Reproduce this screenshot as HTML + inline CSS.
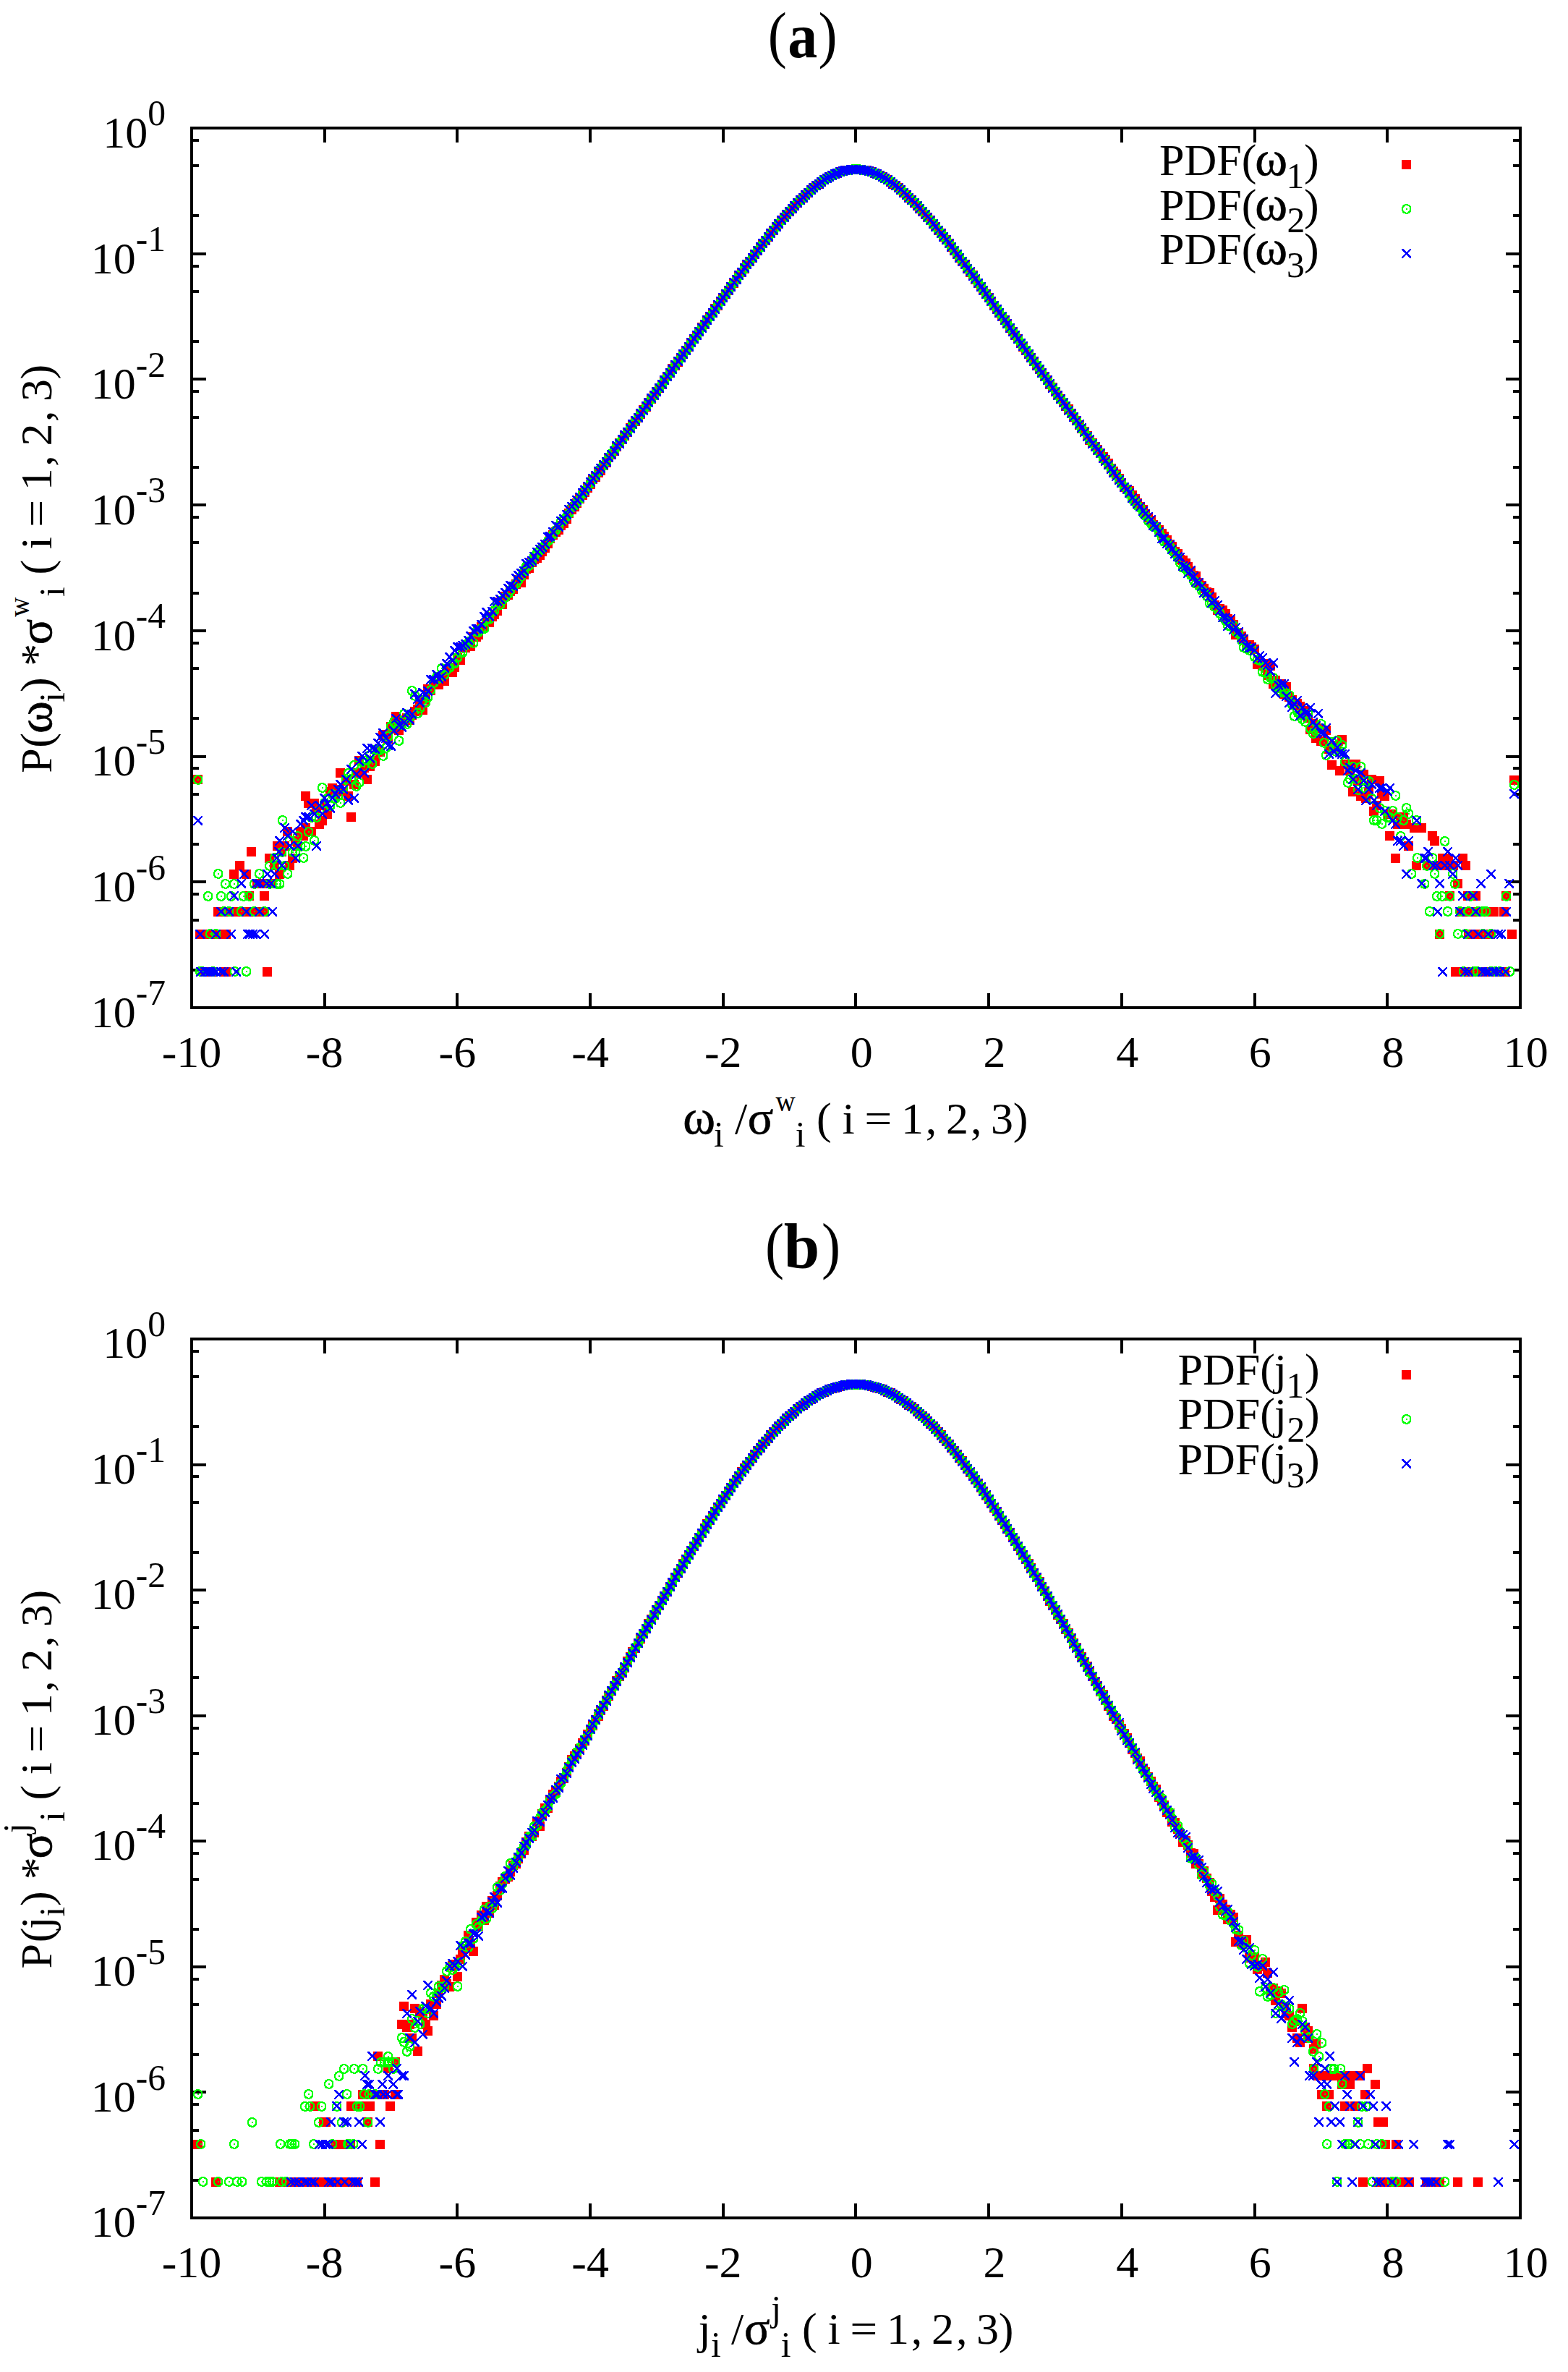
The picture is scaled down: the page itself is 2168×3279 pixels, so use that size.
<!DOCTYPE html>
<html><head><meta charset="utf-8"><title>PDF plots</title>
<style>html,body{margin:0;padding:0;background:#fff}svg{display:block}text{font-family:"Liberation Serif",serif;font-size:62px;fill:#000}</style></head><body>
<svg width="2168" height="3279" viewBox="0 0 2168 3279">
<rect width="2168" height="3279" fill="#fff"/>
<defs><path id="c" fill="#0f0" d="M4 0h5v1h-5zM2 1h9v1h-9zM1 2h4v1h-4zM8 2h4v1h-4zM1 3h3v1h-3zM10 3h3v1h-3zM0 4h3v1h-3zM11 4h2v1h-2zM0 5h2v1h-2zM11 5h2v1h-2zM0 6h2v1h-2zM6 6h2v1h-2zM11 6h2v1h-2zM0 7h2v1h-2zM6 7h2v1h-2zM11 7h2v1h-2zM0 8h2v1h-2zM11 8h2v1h-2zM0 9h3v1h-3zM10 9h3v1h-3zM1 10h3v1h-3zM9 10h4v1h-4zM1 11h5v1h-5zM8 11h4v1h-4zM2 12h9v1h-9zM5 13h4v1h-4z"/><path id="x" fill="#00f" d="M0 0h3v1h-3zM11 0h2v1h-2zM0 1h4v1h-4zM10 1h3v1h-3zM1 2h4v1h-4zM9 2h3v1h-3zM2 3h4v1h-4zM8 3h3v1h-3zM3 4h7v1h-7zM4 5h5v1h-5zM5 6h4v1h-4zM4 7h6v1h-6zM3 8h3v1h-3zM7 8h4v1h-4zM2 9h3v1h-3zM8 9h4v1h-4zM1 10h3v1h-3zM9 10h4v1h-4zM0 11h3v1h-3zM10 11h3v1h-3zM0 12h2v1h-2zM11 12h2v1h-2z"/></defs>
<g id="panel-a">
<text transform="translate(1061.86,77) scale(0.9,1)" style="font-size:87px;">(</text>
<text transform="translate(1089.16,78.5) scale(0.92,1)" font-weight="bold" style="font-size:89px;">a</text>
<text transform="translate(1131.38,77) scale(0.9,1)" style="font-size:87px;">)</text>
<g fill="#000" shape-rendering="crispEdges">
<rect x="263" y="175" width="1841" height="4"/>
<rect x="263" y="1391" width="1841" height="4"/>
<rect x="263" y="175" width="4" height="1220"/>
<rect x="2100" y="175" width="4" height="1220"/>
<rect x="447" y="177" width="4" height="20"/>
<rect x="447" y="1373" width="4" height="20"/>
<rect x="630" y="177" width="4" height="20"/>
<rect x="630" y="1373" width="4" height="20"/>
<rect x="814" y="177" width="4" height="20"/>
<rect x="814" y="1373" width="4" height="20"/>
<rect x="998" y="177" width="4" height="20"/>
<rect x="998" y="1373" width="4" height="20"/>
<rect x="1181" y="177" width="4" height="20"/>
<rect x="1181" y="1373" width="4" height="20"/>
<rect x="1365" y="177" width="4" height="20"/>
<rect x="1365" y="1373" width="4" height="20"/>
<rect x="1549" y="177" width="4" height="20"/>
<rect x="1549" y="1373" width="4" height="20"/>
<rect x="1733" y="177" width="4" height="20"/>
<rect x="1733" y="1373" width="4" height="20"/>
<rect x="1916" y="177" width="4" height="20"/>
<rect x="1916" y="1373" width="4" height="20"/>
<rect x="265" y="192" width="10" height="4"/>
<rect x="2092" y="192" width="10" height="4"/>
<rect x="265" y="227" width="10" height="4"/>
<rect x="2092" y="227" width="10" height="4"/>
<rect x="265" y="296" width="10" height="4"/>
<rect x="2092" y="296" width="10" height="4"/>
<rect x="265" y="349" width="20" height="4"/>
<rect x="2082" y="349" width="20" height="4"/>
<rect x="265" y="366" width="10" height="4"/>
<rect x="2092" y="366" width="10" height="4"/>
<rect x="265" y="401" width="10" height="4"/>
<rect x="2092" y="401" width="10" height="4"/>
<rect x="265" y="470" width="10" height="4"/>
<rect x="2092" y="470" width="10" height="4"/>
<rect x="265" y="522" width="20" height="4"/>
<rect x="2082" y="522" width="20" height="4"/>
<rect x="265" y="539" width="10" height="4"/>
<rect x="2092" y="539" width="10" height="4"/>
<rect x="265" y="575" width="10" height="4"/>
<rect x="2092" y="575" width="10" height="4"/>
<rect x="265" y="644" width="10" height="4"/>
<rect x="2092" y="644" width="10" height="4"/>
<rect x="265" y="696" width="20" height="4"/>
<rect x="2082" y="696" width="20" height="4"/>
<rect x="265" y="713" width="10" height="4"/>
<rect x="2092" y="713" width="10" height="4"/>
<rect x="265" y="748" width="10" height="4"/>
<rect x="2092" y="748" width="10" height="4"/>
<rect x="265" y="818" width="10" height="4"/>
<rect x="2092" y="818" width="10" height="4"/>
<rect x="265" y="870" width="20" height="4"/>
<rect x="2082" y="870" width="20" height="4"/>
<rect x="265" y="887" width="10" height="4"/>
<rect x="2092" y="887" width="10" height="4"/>
<rect x="265" y="922" width="10" height="4"/>
<rect x="2092" y="922" width="10" height="4"/>
<rect x="265" y="991" width="10" height="4"/>
<rect x="2092" y="991" width="10" height="4"/>
<rect x="265" y="1044" width="20" height="4"/>
<rect x="2082" y="1044" width="20" height="4"/>
<rect x="265" y="1060" width="10" height="4"/>
<rect x="2092" y="1060" width="10" height="4"/>
<rect x="265" y="1096" width="10" height="4"/>
<rect x="2092" y="1096" width="10" height="4"/>
<rect x="265" y="1165" width="10" height="4"/>
<rect x="2092" y="1165" width="10" height="4"/>
<rect x="265" y="1217" width="20" height="4"/>
<rect x="2082" y="1217" width="20" height="4"/>
<rect x="265" y="1234" width="10" height="4"/>
<rect x="2092" y="1234" width="10" height="4"/>
<rect x="265" y="1270" width="10" height="4"/>
<rect x="2092" y="1270" width="10" height="4"/>
<rect x="265" y="1339" width="10" height="4"/>
<rect x="2092" y="1339" width="10" height="4"/>
</g>
<text x="229" y="203.8" text-anchor="end">10<tspan dy="-30.5" font-size="49.6">0</tspan></text>
<text x="229" y="377.51" text-anchor="end">10<tspan dy="-30.5" font-size="49.6">-1</tspan></text>
<text x="229" y="551.23" text-anchor="end">10<tspan dy="-30.5" font-size="49.6">-2</tspan></text>
<text x="229" y="724.94" text-anchor="end">10<tspan dy="-30.5" font-size="49.6">-3</tspan></text>
<text x="229" y="898.66" text-anchor="end">10<tspan dy="-30.5" font-size="49.6">-4</tspan></text>
<text x="229" y="1072.37" text-anchor="end">10<tspan dy="-30.5" font-size="49.6">-5</tspan></text>
<text x="229" y="1246.09" text-anchor="end">10<tspan dy="-30.5" font-size="49.6">-6</tspan></text>
<text x="229" y="1419.8" text-anchor="end">10<tspan dy="-30.5" font-size="49.6">-7</tspan></text>
<text x="265" y="1475" text-anchor="middle">-10</text>
<text x="448.7" y="1475" text-anchor="middle">-8</text>
<text x="632.4" y="1475" text-anchor="middle">-6</text>
<text x="816.1" y="1475" text-anchor="middle">-4</text>
<text x="999.8" y="1475" text-anchor="middle">-2</text>
<text x="1191.25" y="1475" text-anchor="middle">0</text>
<text x="1374.95" y="1475" text-anchor="middle">2</text>
<text x="1558.65" y="1475" text-anchor="middle">4</text>
<text x="1742.35" y="1475" text-anchor="middle">6</text>
<text x="1926.05" y="1475" text-anchor="middle">8</text>
<text x="2109.75" y="1475" text-anchor="middle">10</text>
<text x="1737.4" y="242.2" text-anchor="end">PDF(</text>
<text x="1735.34" y="242.2" style="font-size:68px;stroke:#000;stroke-width:0.6px;">ω</text>
<text x="1778.61" y="259.9" style="font-size:49.6px;">1</text>
<text x="1803" y="242.2">)</text>
<text x="1737.4" y="303.7" text-anchor="end">PDF(</text>
<text x="1735.34" y="303.7" style="font-size:68px;stroke:#000;stroke-width:0.6px;">ω</text>
<text x="1779.58" y="321.4" style="font-size:49.6px;">2</text>
<text x="1803" y="303.7">)</text>
<text x="1737.4" y="365.2" text-anchor="end">PDF(</text>
<text x="1735.34" y="365.2" style="font-size:68px;stroke:#000;stroke-width:0.6px;">ω</text>
<text x="1779.08" y="382.9" style="font-size:49.6px;">3</text>
<text x="1803" y="365.2">)</text>
<text x="944.14" y="1567.4" style="font-size:68px;stroke:#000;stroke-width:0.6px;">ω</text>
<text x="986.96" y="1585.4" style="font-size:49.6px;">i</text>
<text x="1016" y="1567.4">/</text>
<text x="1033.69" y="1567.4" style="font-size:66px;stroke:#000;stroke-width:0.6px;">σ</text>
<text transform="translate(1072.46,1536.1) scale(0.94,1)" style="font-size:40px;">w</text>
<text x="1099.86" y="1585.4" style="font-size:49.6px;">i</text>
<text x="1129.08" y="1567.4">(</text>
<text x="1164.5" y="1567.4">i</text>
<text transform="translate(1195.34,1567.4) scale(1.09,1)">=</text>
<text x="1246.04" y="1567.4">1</text>
<text x="1279.74" y="1567.4">,</text>
<text x="1308.08" y="1567.4">2</text>
<text x="1341.94" y="1567.4">,</text>
<text x="1370.03" y="1567.4">3</text>
<text x="1400.8" y="1567.4">)</text>
<g transform="translate(71,1067) rotate(-90)">
<text x="-1.79" y="0">P</text>
<text x="33.28" y="0">(</text>
<text x="52.94" y="0" style="font-size:68px;stroke:#000;stroke-width:0.6px;">ω</text>
<text x="96.26" y="18" style="font-size:49.6px;">i</text>
<text x="110" y="0">)</text>
<text x="146.17" y="0">*</text>
<text x="175.69" y="0" style="font-size:66px;stroke:#000;stroke-width:0.6px;">σ</text>
<text transform="translate(214.26,-31.3) scale(0.94,1)" style="font-size:40px;">w</text>
<text x="241.96" y="18" style="font-size:49.6px;">i</text>
<text x="272.48" y="0">(</text>
<text x="307.69" y="0">i</text>
<text transform="translate(338.34,0) scale(1.09,1)">=</text>
<text x="388.65" y="0">1</text>
<text x="422.24" y="0">,</text>
<text x="450.4" y="0">2</text>
<text x="484.06" y="0">,</text>
<text x="511.99" y="0">3</text>
<text x="542.58" y="0">)</text>
</g>
<g shape-rendering="crispEdges">
<path fill="#f00" d="M380 1202h13v13h-13zM383 1171h13v13h-13zM387 1163h13v13h-13zM391 1143h13v13h-13zM394 1190h13v13h-13zM398 1180h13v13h-13zM402 1156h13v13h-13zM405 1163h13v13h-13zM409 1143h13v13h-13zM413 1149h13v13h-13zM416 1138h13v13h-13zM420 1104h13v13h-13zM424 1143h13v13h-13zM428 1104h13v13h-13zM431 1111h13v13h-13zM435 1133h13v13h-13zM439 1128h13v13h-13zM442 1107h13v13h-13zM446 1119h13v13h-13zM450 1088h13v13h-13zM453 1083h13v13h-13zM457 1091h13v13h-13zM461 1085h13v13h-13zM464 1062h13v13h-13zM468 1088h13v13h-13zM472 1073h13v13h-13zM475 1094h13v13h-13zM479 1123h13v13h-13zM483 1078h13v13h-13zM486 1062h13v13h-13zM490 1045h13v13h-13zM494 1062h13v13h-13zM497 1055h13v13h-13zM501 1071h13v13h-13zM505 1053h13v13h-13zM508 1045h13v13h-13zM512 1046h13v13h-13zM516 1030h13v13h-13zM519 1033h13v13h-13zM523 1010h13v13h-13zM527 1009h13v13h-13zM530 1015h13v13h-13zM534 998h13v13h-13zM538 1001h13v13h-13zM541 984h13v13h-13zM545 1003h13v13h-13zM549 992h13v13h-13zM552 989h13v13h-13zM556 986h13v13h-13zM560 989h13v13h-13zM563 982h13v13h-13zM567 977h13v13h-13zM571 974h13v13h-13zM574 961h13v13h-13zM578 975h13v13h-13zM582 961h13v13h-13zM585 946h13v13h-13zM589 948h13v13h-13zM593 940h13v13h-13zM597 938h13v13h-13zM600 940h13v13h-13zM604 931h13v13h-13zM608 935h13v13h-13zM611 922h13v13h-13zM615 919h13v13h-13zM619 923h13v13h-13zM622 916h13v13h-13zM626 903h13v13h-13zM630 906h13v13h-13zM633 889h13v13h-13zM637 889h13v13h-13zM641 885h13v13h-13zM644 887h13v13h-13zM648 874h13v13h-13zM652 874h13v13h-13zM655 871h13v13h-13zM659 860h13v13h-13zM663 860h13v13h-13zM666 854h13v13h-13zM670 854h13v13h-13zM674 846h13v13h-13zM677 843h13v13h-13zM681 838h13v13h-13zM685 826h13v13h-13zM688 829h13v13h-13zM692 818h13v13h-13zM696 816h13v13h-13zM699 811h13v13h-13zM703 808h13v13h-13zM707 801h13v13h-13zM710 795h13v13h-13zM714 799h13v13h-13zM718 788h13v13h-13zM721 780h13v13h-13zM725 779h13v13h-13zM729 771h13v13h-13zM732 767h13v13h-13zM736 765h13v13h-13zM740 761h13v13h-13zM743 756h13v13h-13zM747 751h13v13h-13zM751 745h13v13h-13zM754 738h13v13h-13zM758 733h13v13h-13zM762 729h13v13h-13zM766 726h13v13h-13zM769 720h13v13h-13zM773 717h13v13h-13zM777 711h13v13h-13zM780 703h13v13h-13zM784 698h13v13h-13zM788 694h13v13h-13zM791 689h13v13h-13zM795 683h13v13h-13zM799 678h13v13h-13zM802 674h13v13h-13zM806 668h13v13h-13zM810 663h13v13h-13zM813 656h13v13h-13zM817 653h13v13h-13zM821 647h13v13h-13zM824 644h13v13h-13zM828 637h13v13h-13zM832 633h13v13h-13zM835 626h13v13h-13zM839 622h13v13h-13zM843 617h13v13h-13zM846 611h13v13h-13zM850 606h13v13h-13zM854 601h13v13h-13zM857 596h13v13h-13zM861 591h13v13h-13zM865 585h13v13h-13zM868 580h13v13h-13zM872 576h13v13h-13zM876 571h13v13h-13zM879 566h13v13h-13zM883 560h13v13h-13zM887 556h13v13h-13zM890 550h13v13h-13zM894 545h13v13h-13zM898 540h13v13h-13zM901 535h13v13h-13zM905 530h13v13h-13zM909 525h13v13h-13zM912 519h13v13h-13zM916 514h13v13h-13zM920 509h13v13h-13zM923 503h13v13h-13zM927 499h13v13h-13zM931 494h13v13h-13zM935 488h13v13h-13zM938 483h13v13h-13zM942 478h13v13h-13zM946 473h13v13h-13zM949 467h13v13h-13zM953 462h13v13h-13zM957 457h13v13h-13zM960 452h13v13h-13zM964 446h13v13h-13zM968 442h13v13h-13zM971 436h13v13h-13zM975 431h13v13h-13zM979 426h13v13h-13zM982 420h13v13h-13zM986 416h13v13h-13zM990 410h13v13h-13zM993 405h13v13h-13zM997 400h13v13h-13zM1001 395h13v13h-13zM1004 390h13v13h-13zM1008 385h13v13h-13zM1012 380h13v13h-13zM1015 374h13v13h-13zM1019 370h13v13h-13zM1023 365h13v13h-13zM1026 359h13v13h-13zM1030 355h13v13h-13zM1034 350h13v13h-13zM1037 345h13v13h-13zM1041 340h13v13h-13zM1045 335h13v13h-13zM1048 330h13v13h-13zM1052 326h13v13h-13zM1056 321h13v13h-13zM1059 316h13v13h-13zM1063 312h13v13h-13zM1067 307h13v13h-13zM1070 303h13v13h-13zM1074 298h13v13h-13zM1078 294h13v13h-13zM1081 290h13v13h-13zM1085 286h13v13h-13zM1089 282h13v13h-13zM1092 278h13v13h-13zM1096 274h13v13h-13zM1100 270h13v13h-13zM1104 267h13v13h-13zM1107 263h13v13h-13zM1111 260h13v13h-13zM1115 256h13v13h-13zM1118 253h13v13h-13zM1122 250h13v13h-13zM1126 248h13v13h-13zM1129 245h13v13h-13zM1133 242h13v13h-13zM1137 240h13v13h-13zM1140 238h13v13h-13zM1144 236h13v13h-13zM1148 234h13v13h-13zM1151 233h13v13h-13zM1155 231h13v13h-13zM1159 230h13v13h-13zM1162 229h13v13h-13zM1166 229h13v13h-13zM1170 228h13v13h-13zM1173 228h13v13h-13zM1177 228h13v13h-13zM1181 228h13v13h-13zM1184 228h13v13h-13zM1188 229h13v13h-13zM1192 229h13v13h-13zM1195 230h13v13h-13zM1199 231h13v13h-13zM1203 233h13v13h-13zM1206 234h13v13h-13zM1210 236h13v13h-13zM1214 238h13v13h-13zM1217 240h13v13h-13zM1221 242h13v13h-13zM1225 245h13v13h-13zM1228 248h13v13h-13zM1232 250h13v13h-13zM1236 253h13v13h-13zM1239 256h13v13h-13zM1243 260h13v13h-13zM1247 263h13v13h-13zM1250 267h13v13h-13zM1254 270h13v13h-13zM1258 274h13v13h-13zM1262 278h13v13h-13zM1265 282h13v13h-13zM1269 286h13v13h-13zM1273 290h13v13h-13zM1276 294h13v13h-13zM1280 298h13v13h-13zM1284 303h13v13h-13zM1287 307h13v13h-13zM1291 312h13v13h-13zM1295 316h13v13h-13zM1298 321h13v13h-13zM1302 325h13v13h-13zM1306 330h13v13h-13zM1309 335h13v13h-13zM1313 340h13v13h-13zM1317 345h13v13h-13zM1320 350h13v13h-13zM1324 355h13v13h-13zM1328 359h13v13h-13zM1331 365h13v13h-13zM1335 370h13v13h-13zM1339 374h13v13h-13zM1342 380h13v13h-13zM1346 385h13v13h-13zM1350 390h13v13h-13zM1353 395h13v13h-13zM1357 400h13v13h-13zM1361 405h13v13h-13zM1364 410h13v13h-13zM1368 416h13v13h-13zM1372 421h13v13h-13zM1375 426h13v13h-13zM1379 431h13v13h-13zM1383 436h13v13h-13zM1386 441h13v13h-13zM1390 447h13v13h-13zM1394 452h13v13h-13zM1397 457h13v13h-13zM1401 462h13v13h-13zM1405 468h13v13h-13zM1408 473h13v13h-13zM1412 478h13v13h-13zM1416 483h13v13h-13zM1419 488h13v13h-13zM1423 493h13v13h-13zM1427 499h13v13h-13zM1431 504h13v13h-13zM1434 509h13v13h-13zM1438 514h13v13h-13zM1442 519h13v13h-13zM1445 525h13v13h-13zM1449 529h13v13h-13zM1453 535h13v13h-13zM1456 540h13v13h-13zM1460 545h13v13h-13zM1464 550h13v13h-13zM1467 555h13v13h-13zM1471 559h13v13h-13zM1475 565h13v13h-13zM1478 570h13v13h-13zM1482 575h13v13h-13zM1486 581h13v13h-13zM1489 586h13v13h-13zM1493 590h13v13h-13zM1497 596h13v13h-13zM1500 602h13v13h-13zM1504 606h13v13h-13zM1508 611h13v13h-13zM1511 615h13v13h-13zM1515 620h13v13h-13zM1519 625h13v13h-13zM1522 629h13v13h-13zM1526 634h13v13h-13zM1530 641h13v13h-13zM1533 645h13v13h-13zM1537 649h13v13h-13zM1541 655h13v13h-13zM1544 661h13v13h-13zM1548 667h13v13h-13zM1552 670h13v13h-13zM1555 672h13v13h-13zM1559 678h13v13h-13zM1563 683h13v13h-13zM1566 689h13v13h-13zM1570 694h13v13h-13zM1574 698h13v13h-13zM1577 704h13v13h-13zM1581 709h13v13h-13zM1585 713h13v13h-13zM1588 719h13v13h-13zM1592 722h13v13h-13zM1596 726h13v13h-13zM1600 731h13v13h-13zM1603 735h13v13h-13zM1607 740h13v13h-13zM1611 746h13v13h-13zM1614 749h13v13h-13zM1618 756h13v13h-13zM1622 759h13v13h-13zM1625 767h13v13h-13zM1629 768h13v13h-13zM1633 772h13v13h-13zM1636 777h13v13h-13zM1640 783h13v13h-13zM1644 789h13v13h-13zM1647 790h13v13h-13zM1651 799h13v13h-13zM1655 803h13v13h-13zM1658 807h13v13h-13zM1662 812h13v13h-13zM1666 813h13v13h-13zM1669 819h13v13h-13zM1673 830h13v13h-13zM1677 837h13v13h-13zM1680 835h13v13h-13zM1684 837h13v13h-13zM1688 842h13v13h-13zM1691 849h13v13h-13zM1695 852h13v13h-13zM1699 857h13v13h-13zM1702 871h13v13h-13zM1706 868h13v13h-13zM1710 873h13v13h-13zM1713 877h13v13h-13zM1717 885h13v13h-13zM1721 885h13v13h-13zM1724 888h13v13h-13zM1728 891h13v13h-13zM1732 912h13v13h-13zM1735 908h13v13h-13zM1739 914h13v13h-13zM1743 911h13v13h-13zM1746 927h13v13h-13zM1750 914h13v13h-13zM1754 939h13v13h-13zM1757 934h13v13h-13zM1761 943h13v13h-13zM1765 939h13v13h-13zM1769 953h13v13h-13zM1772 943h13v13h-13zM1776 957h13v13h-13zM1780 961h13v13h-13zM1783 967h13v13h-13zM1787 966h13v13h-13zM1791 970h13v13h-13zM1794 980h13v13h-13zM1798 976h13v13h-13zM1802 986h13v13h-13zM1805 1002h13v13h-13zM1809 994h13v13h-13zM1813 1014h13v13h-13zM1816 1000h13v13h-13zM1820 1018h13v13h-13zM1824 1018h13v13h-13zM1827 1003h13v13h-13zM1831 1029h13v13h-13zM1835 1051h13v13h-13zM1838 1024h13v13h-13zM1842 1028h13v13h-13zM1846 1059h13v13h-13zM1849 1016h13v13h-13zM1853 1050h13v13h-13zM1857 1050h13v13h-13zM1860 1059h13v13h-13zM1864 1088h13v13h-13zM1868 1050h13v13h-13zM1871 1073h13v13h-13zM1875 1094h13v13h-13zM1879 1064h13v13h-13zM1882 1097h13v13h-13zM1886 1088h13v13h-13zM1890 1071h13v13h-13zM1893 1115h13v13h-13zM1897 1107h13v13h-13zM1901 1073h13v13h-13zM1904 1091h13v13h-13zM1908 1094h13v13h-13zM1912 1119h13v13h-13zM1915 1149h13v13h-13zM1919 1119h13v13h-13zM1923 1180h13v13h-13zM1926 1133h13v13h-13zM1930 1123h13v13h-13zM1934 1123h13v13h-13zM1938 1133h13v13h-13zM1941 1163h13v13h-13zM277 1337h13v13h-13zM288 1337h13v13h-13zM303 1337h13v13h-13zM306 1337h13v13h-13zM363 1337h13v13h-13zM270 1285h13v13h-13zM281 1285h13v13h-13zM291 1285h13v13h-13zM302 1285h13v13h-13zM306 1285h13v13h-13zM295 1254h13v13h-13zM306 1254h13v13h-13zM317 1254h13v13h-13zM328 1254h13v13h-13zM340 1254h13v13h-13zM351 1254h13v13h-13zM357 1254h13v13h-13zM338 1232h13v13h-13zM359 1232h13v13h-13zM349 1215h13v13h-13zM359 1215h13v13h-13zM368 1215h13v13h-13zM317 1202h13v13h-13zM334 1202h13v13h-13zM325 1190h13v13h-13zM373 1190h13v13h-13zM366 1180h13v13h-13zM341 1171h13v13h-13zM377 1163h13v13h-13zM416 1094h13v13h-13zM267 1071h13v13h-13zM2006 1337h13v13h-13zM2017 1337h13v13h-13zM2029 1337h13v13h-13zM2040 1337h13v13h-13zM2051 1337h13v13h-13zM2062 1337h13v13h-13zM2074 1337h13v13h-13zM1984 1285h13v13h-13zM2024 1285h13v13h-13zM2034 1285h13v13h-13zM2044 1285h13v13h-13zM2054 1285h13v13h-13zM2084 1285h13v13h-13zM2013 1254h13v13h-13zM2024 1254h13v13h-13zM2036 1254h13v13h-13zM2047 1254h13v13h-13zM2059 1254h13v13h-13zM2073 1254h13v13h-13zM1998 1232h13v13h-13zM2023 1232h13v13h-13zM2034 1232h13v13h-13zM2076 1232h13v13h-13zM2009 1215h13v13h-13zM1952 1190h13v13h-13zM1967 1190h13v13h-13zM1980 1190h13v13h-13zM1991 1190h13v13h-13zM2003 1190h13v13h-13zM2020 1190h13v13h-13zM1988 1180h13v13h-13zM1996 1180h13v13h-13zM2016 1180h13v13h-13zM1974 1149h13v13h-13zM1977 1156h13v13h-13zM1949 1138h13v13h-13zM1959 1138h13v13h-13zM2087 1072h13v13h-13zM1938 221h13v13h-13z"/>
<use href="#c" x="380" y="1215"/><use href="#c" x="383" y="1171"/><use href="#c" x="387" y="1190"/><use href="#c" x="391" y="1201"/><use href="#c" x="394" y="1155"/><use href="#c" x="398" y="1171"/><use href="#c" x="402" y="1171"/><use href="#c" x="405" y="1149"/><use href="#c" x="409" y="1163"/><use href="#c" x="413" y="1179"/><use href="#c" x="416" y="1163"/><use href="#c" x="420" y="1143"/><use href="#c" x="424" y="1123"/><use href="#c" x="428" y="1155"/><use href="#c" x="431" y="1123"/><use href="#c" x="435" y="1114"/><use href="#c" x="439" y="1082"/><use href="#c" x="442" y="1103"/><use href="#c" x="446" y="1097"/><use href="#c" x="450" y="1107"/><use href="#c" x="453" y="1091"/><use href="#c" x="457" y="1097"/><use href="#c" x="461" y="1093"/><use href="#c" x="464" y="1103"/><use href="#c" x="468" y="1082"/><use href="#c" x="472" y="1070"/><use href="#c" x="475" y="1062"/><use href="#c" x="479" y="1070"/><use href="#c" x="483" y="1051"/><use href="#c" x="486" y="1080"/><use href="#c" x="490" y="1075"/><use href="#c" x="494" y="1046"/><use href="#c" x="497" y="1053"/><use href="#c" x="501" y="1044"/><use href="#c" x="505" y="1037"/><use href="#c" x="508" y="1049"/><use href="#c" x="512" y="1030"/><use href="#c" x="516" y="1029"/><use href="#c" x="519" y="1030"/><use href="#c" x="523" y="1038"/><use href="#c" x="527" y="1027"/><use href="#c" x="530" y="1011"/><use href="#c" x="534" y="997"/><use href="#c" x="538" y="991"/><use href="#c" x="541" y="994"/><use href="#c" x="545" y="1017"/><use href="#c" x="549" y="995"/><use href="#c" x="552" y="980"/><use href="#c" x="556" y="994"/><use href="#c" x="560" y="985"/><use href="#c" x="563" y="948"/><use href="#c" x="567" y="955"/><use href="#c" x="571" y="979"/><use href="#c" x="574" y="972"/><use href="#c" x="578" y="961"/><use href="#c" x="582" y="964"/><use href="#c" x="585" y="957"/><use href="#c" x="589" y="947"/><use href="#c" x="593" y="937"/><use href="#c" x="597" y="929"/><use href="#c" x="600" y="931"/><use href="#c" x="604" y="917"/><use href="#c" x="608" y="926"/><use href="#c" x="611" y="919"/><use href="#c" x="615" y="916"/><use href="#c" x="619" y="911"/><use href="#c" x="622" y="910"/><use href="#c" x="626" y="902"/><use href="#c" x="630" y="895"/><use href="#c" x="633" y="895"/><use href="#c" x="637" y="885"/><use href="#c" x="641" y="882"/><use href="#c" x="644" y="879"/><use href="#c" x="648" y="882"/><use href="#c" x="652" y="866"/><use href="#c" x="655" y="867"/><use href="#c" x="659" y="862"/><use href="#c" x="663" y="862"/><use href="#c" x="666" y="850"/><use href="#c" x="670" y="849"/><use href="#c" x="674" y="839"/><use href="#c" x="677" y="837"/><use href="#c" x="681" y="827"/><use href="#c" x="685" y="829"/><use href="#c" x="688" y="823"/><use href="#c" x="692" y="819"/><use href="#c" x="696" y="814"/><use href="#c" x="699" y="809"/><use href="#c" x="703" y="803"/><use href="#c" x="707" y="800"/><use href="#c" x="710" y="795"/><use href="#c" x="714" y="790"/><use href="#c" x="718" y="783"/><use href="#c" x="721" y="776"/><use href="#c" x="725" y="775"/><use href="#c" x="729" y="769"/><use href="#c" x="732" y="762"/><use href="#c" x="736" y="757"/><use href="#c" x="740" y="754"/><use href="#c" x="743" y="751"/><use href="#c" x="747" y="746"/><use href="#c" x="751" y="741"/><use href="#c" x="754" y="738"/><use href="#c" x="758" y="732"/><use href="#c" x="762" y="726"/><use href="#c" x="766" y="721"/><use href="#c" x="769" y="714"/><use href="#c" x="773" y="712"/><use href="#c" x="777" y="707"/><use href="#c" x="780" y="703"/><use href="#c" x="784" y="695"/><use href="#c" x="788" y="692"/><use href="#c" x="791" y="688"/><use href="#c" x="795" y="683"/><use href="#c" x="799" y="675"/><use href="#c" x="802" y="672"/><use href="#c" x="806" y="666"/><use href="#c" x="810" y="661"/><use href="#c" x="813" y="656"/><use href="#c" x="817" y="651"/><use href="#c" x="821" y="645"/><use href="#c" x="824" y="640"/><use href="#c" x="828" y="637"/><use href="#c" x="832" y="631"/><use href="#c" x="835" y="625"/><use href="#c" x="839" y="620"/><use href="#c" x="843" y="615"/><use href="#c" x="846" y="610"/><use href="#c" x="850" y="605"/><use href="#c" x="854" y="600"/><use href="#c" x="857" y="596"/><use href="#c" x="861" y="590"/><use href="#c" x="865" y="585"/><use href="#c" x="868" y="580"/><use href="#c" x="872" y="575"/><use href="#c" x="876" y="570"/><use href="#c" x="879" y="565"/><use href="#c" x="883" y="560"/><use href="#c" x="887" y="555"/><use href="#c" x="890" y="550"/><use href="#c" x="894" y="545"/><use href="#c" x="898" y="540"/><use href="#c" x="901" y="535"/><use href="#c" x="905" y="529"/><use href="#c" x="909" y="524"/><use href="#c" x="912" y="519"/><use href="#c" x="916" y="514"/><use href="#c" x="920" y="508"/><use href="#c" x="923" y="504"/><use href="#c" x="927" y="498"/><use href="#c" x="931" y="492"/><use href="#c" x="935" y="488"/><use href="#c" x="938" y="482"/><use href="#c" x="942" y="478"/><use href="#c" x="946" y="472"/><use href="#c" x="949" y="467"/><use href="#c" x="953" y="462"/><use href="#c" x="957" y="457"/><use href="#c" x="960" y="451"/><use href="#c" x="964" y="446"/><use href="#c" x="968" y="441"/><use href="#c" x="971" y="436"/><use href="#c" x="975" y="431"/><use href="#c" x="979" y="426"/><use href="#c" x="982" y="420"/><use href="#c" x="986" y="415"/><use href="#c" x="990" y="410"/><use href="#c" x="993" y="405"/><use href="#c" x="997" y="399"/><use href="#c" x="1001" y="394"/><use href="#c" x="1004" y="389"/><use href="#c" x="1008" y="384"/><use href="#c" x="1012" y="379"/><use href="#c" x="1015" y="374"/><use href="#c" x="1019" y="369"/><use href="#c" x="1023" y="364"/><use href="#c" x="1026" y="359"/><use href="#c" x="1030" y="354"/><use href="#c" x="1034" y="349"/><use href="#c" x="1037" y="344"/><use href="#c" x="1041" y="339"/><use href="#c" x="1045" y="335"/><use href="#c" x="1048" y="330"/><use href="#c" x="1052" y="325"/><use href="#c" x="1056" y="320"/><use href="#c" x="1059" y="316"/><use href="#c" x="1063" y="311"/><use href="#c" x="1067" y="307"/><use href="#c" x="1070" y="302"/><use href="#c" x="1074" y="298"/><use href="#c" x="1078" y="294"/><use href="#c" x="1081" y="289"/><use href="#c" x="1085" y="285"/><use href="#c" x="1089" y="281"/><use href="#c" x="1092" y="277"/><use href="#c" x="1096" y="273"/><use href="#c" x="1100" y="270"/><use href="#c" x="1104" y="266"/><use href="#c" x="1107" y="263"/><use href="#c" x="1111" y="259"/><use href="#c" x="1115" y="256"/><use href="#c" x="1118" y="253"/><use href="#c" x="1122" y="250"/><use href="#c" x="1126" y="247"/><use href="#c" x="1129" y="244"/><use href="#c" x="1133" y="242"/><use href="#c" x="1137" y="240"/><use href="#c" x="1140" y="238"/><use href="#c" x="1144" y="236"/><use href="#c" x="1148" y="234"/><use href="#c" x="1151" y="232"/><use href="#c" x="1155" y="231"/><use href="#c" x="1159" y="230"/><use href="#c" x="1162" y="229"/><use href="#c" x="1166" y="228"/><use href="#c" x="1170" y="228"/><use href="#c" x="1173" y="227"/><use href="#c" x="1177" y="227"/><use href="#c" x="1181" y="227"/><use href="#c" x="1184" y="228"/><use href="#c" x="1188" y="228"/><use href="#c" x="1192" y="229"/><use href="#c" x="1195" y="230"/><use href="#c" x="1199" y="231"/><use href="#c" x="1203" y="232"/><use href="#c" x="1206" y="234"/><use href="#c" x="1210" y="236"/><use href="#c" x="1214" y="238"/><use href="#c" x="1217" y="240"/><use href="#c" x="1221" y="242"/><use href="#c" x="1225" y="244"/><use href="#c" x="1228" y="247"/><use href="#c" x="1232" y="250"/><use href="#c" x="1236" y="253"/><use href="#c" x="1239" y="256"/><use href="#c" x="1243" y="259"/><use href="#c" x="1247" y="263"/><use href="#c" x="1250" y="266"/><use href="#c" x="1254" y="270"/><use href="#c" x="1258" y="273"/><use href="#c" x="1262" y="277"/><use href="#c" x="1265" y="281"/><use href="#c" x="1269" y="285"/><use href="#c" x="1273" y="289"/><use href="#c" x="1276" y="294"/><use href="#c" x="1280" y="298"/><use href="#c" x="1284" y="302"/><use href="#c" x="1287" y="307"/><use href="#c" x="1291" y="311"/><use href="#c" x="1295" y="316"/><use href="#c" x="1298" y="320"/><use href="#c" x="1302" y="325"/><use href="#c" x="1306" y="330"/><use href="#c" x="1309" y="334"/><use href="#c" x="1313" y="339"/><use href="#c" x="1317" y="344"/><use href="#c" x="1320" y="349"/><use href="#c" x="1324" y="354"/><use href="#c" x="1328" y="359"/><use href="#c" x="1331" y="364"/><use href="#c" x="1335" y="369"/><use href="#c" x="1339" y="374"/><use href="#c" x="1342" y="379"/><use href="#c" x="1346" y="384"/><use href="#c" x="1350" y="389"/><use href="#c" x="1353" y="394"/><use href="#c" x="1357" y="400"/><use href="#c" x="1361" y="405"/><use href="#c" x="1364" y="410"/><use href="#c" x="1368" y="415"/><use href="#c" x="1372" y="420"/><use href="#c" x="1375" y="425"/><use href="#c" x="1379" y="430"/><use href="#c" x="1383" y="436"/><use href="#c" x="1386" y="441"/><use href="#c" x="1390" y="446"/><use href="#c" x="1394" y="452"/><use href="#c" x="1397" y="456"/><use href="#c" x="1401" y="462"/><use href="#c" x="1405" y="467"/><use href="#c" x="1408" y="472"/><use href="#c" x="1412" y="477"/><use href="#c" x="1416" y="482"/><use href="#c" x="1419" y="488"/><use href="#c" x="1423" y="493"/><use href="#c" x="1427" y="498"/><use href="#c" x="1431" y="503"/><use href="#c" x="1434" y="509"/><use href="#c" x="1438" y="514"/><use href="#c" x="1442" y="519"/><use href="#c" x="1445" y="524"/><use href="#c" x="1449" y="529"/><use href="#c" x="1453" y="534"/><use href="#c" x="1456" y="540"/><use href="#c" x="1460" y="545"/><use href="#c" x="1464" y="549"/><use href="#c" x="1467" y="554"/><use href="#c" x="1471" y="560"/><use href="#c" x="1475" y="565"/><use href="#c" x="1478" y="569"/><use href="#c" x="1482" y="575"/><use href="#c" x="1486" y="581"/><use href="#c" x="1489" y="586"/><use href="#c" x="1493" y="590"/><use href="#c" x="1497" y="596"/><use href="#c" x="1500" y="601"/><use href="#c" x="1504" y="606"/><use href="#c" x="1508" y="611"/><use href="#c" x="1511" y="616"/><use href="#c" x="1515" y="620"/><use href="#c" x="1519" y="627"/><use href="#c" x="1522" y="630"/><use href="#c" x="1526" y="636"/><use href="#c" x="1530" y="641"/><use href="#c" x="1533" y="647"/><use href="#c" x="1537" y="650"/><use href="#c" x="1541" y="656"/><use href="#c" x="1544" y="661"/><use href="#c" x="1548" y="666"/><use href="#c" x="1552" y="670"/><use href="#c" x="1555" y="676"/><use href="#c" x="1559" y="683"/><use href="#c" x="1563" y="687"/><use href="#c" x="1566" y="692"/><use href="#c" x="1570" y="695"/><use href="#c" x="1574" y="703"/><use href="#c" x="1577" y="706"/><use href="#c" x="1581" y="713"/><use href="#c" x="1585" y="717"/><use href="#c" x="1588" y="721"/><use href="#c" x="1592" y="722"/><use href="#c" x="1596" y="729"/><use href="#c" x="1600" y="736"/><use href="#c" x="1603" y="742"/><use href="#c" x="1607" y="743"/><use href="#c" x="1611" y="749"/><use href="#c" x="1614" y="754"/><use href="#c" x="1618" y="758"/><use href="#c" x="1622" y="764"/><use href="#c" x="1625" y="771"/><use href="#c" x="1629" y="778"/><use href="#c" x="1633" y="779"/><use href="#c" x="1636" y="784"/><use href="#c" x="1640" y="788"/><use href="#c" x="1644" y="796"/><use href="#c" x="1647" y="800"/><use href="#c" x="1651" y="803"/><use href="#c" x="1655" y="809"/><use href="#c" x="1658" y="812"/><use href="#c" x="1662" y="817"/><use href="#c" x="1666" y="827"/><use href="#c" x="1669" y="826"/><use href="#c" x="1673" y="832"/><use href="#c" x="1677" y="836"/><use href="#c" x="1680" y="841"/><use href="#c" x="1684" y="847"/><use href="#c" x="1688" y="851"/><use href="#c" x="1691" y="858"/><use href="#c" x="1695" y="859"/><use href="#c" x="1699" y="858"/><use href="#c" x="1702" y="866"/><use href="#c" x="1706" y="869"/><use href="#c" x="1710" y="878"/><use href="#c" x="1713" y="888"/><use href="#c" x="1717" y="890"/><use href="#c" x="1721" y="892"/><use href="#c" x="1724" y="890"/><use href="#c" x="1728" y="901"/><use href="#c" x="1732" y="905"/><use href="#c" x="1735" y="906"/><use href="#c" x="1739" y="922"/><use href="#c" x="1743" y="923"/><use href="#c" x="1746" y="932"/><use href="#c" x="1750" y="930"/><use href="#c" x="1754" y="930"/><use href="#c" x="1757" y="940"/><use href="#c" x="1761" y="944"/><use href="#c" x="1765" y="950"/><use href="#c" x="1769" y="950"/><use href="#c" x="1772" y="951"/><use href="#c" x="1776" y="954"/><use href="#c" x="1780" y="967"/><use href="#c" x="1783" y="983"/><use href="#c" x="1787" y="976"/><use href="#c" x="1791" y="981"/><use href="#c" x="1794" y="987"/><use href="#c" x="1798" y="991"/><use href="#c" x="1802" y="980"/><use href="#c" x="1805" y="1000"/><use href="#c" x="1809" y="1007"/><use href="#c" x="1813" y="1004"/><use href="#c" x="1816" y="1002"/><use href="#c" x="1820" y="994"/><use href="#c" x="1824" y="1020"/><use href="#c" x="1827" y="1037"/><use href="#c" x="1831" y="1027"/><use href="#c" x="1835" y="1019"/><use href="#c" x="1838" y="1031"/><use href="#c" x="1842" y="1017"/><use href="#c" x="1846" y="1031"/><use href="#c" x="1849" y="1023"/><use href="#c" x="1853" y="1046"/><use href="#c" x="1857" y="1075"/><use href="#c" x="1860" y="1070"/><use href="#c" x="1864" y="1053"/><use href="#c" x="1868" y="1070"/><use href="#c" x="1871" y="1085"/><use href="#c" x="1875" y="1053"/><use href="#c" x="1879" y="1082"/><use href="#c" x="1882" y="1073"/><use href="#c" x="1886" y="1073"/><use href="#c" x="1890" y="1097"/><use href="#c" x="1893" y="1127"/><use href="#c" x="1897" y="1127"/><use href="#c" x="1901" y="1110"/><use href="#c" x="1904" y="1132"/><use href="#c" x="1908" y="1114"/><use href="#c" x="1912" y="1123"/><use href="#c" x="1915" y="1123"/><use href="#c" x="1919" y="1114"/><use href="#c" x="1923" y="1093"/><use href="#c" x="1926" y="1123"/><use href="#c" x="1930" y="1149"/><use href="#c" x="1934" y="1127"/><use href="#c" x="1938" y="1110"/><use href="#c" x="1941" y="1118"/><use href="#c" x="270" y="1336"/><use href="#c" x="273" y="1336"/><use href="#c" x="288" y="1336"/><use href="#c" x="318" y="1336"/><use href="#c" x="334" y="1336"/><use href="#c" x="284" y="1284"/><use href="#c" x="292" y="1284"/><use href="#c" x="303" y="1253"/><use href="#c" x="310" y="1253"/><use href="#c" x="327" y="1253"/><use href="#c" x="345" y="1253"/><use href="#c" x="359" y="1253"/><use href="#c" x="281" y="1232"/><use href="#c" x="299" y="1232"/><use href="#c" x="313" y="1232"/><use href="#c" x="330" y="1232"/><use href="#c" x="338" y="1232"/><use href="#c" x="305" y="1215"/><use href="#c" x="317" y="1215"/><use href="#c" x="345" y="1215"/><use href="#c" x="366" y="1215"/><use href="#c" x="376" y="1215"/><use href="#c" x="295" y="1201"/><use href="#c" x="352" y="1201"/><use href="#c" x="366" y="1190"/><use href="#c" x="378" y="1190"/><use href="#c" x="373" y="1179"/><use href="#c" x="384" y="1127"/><use href="#c" x="267" y="1071"/><use href="#c" x="2017" y="1336"/><use href="#c" x="2031" y="1336"/><use href="#c" x="2036" y="1336"/><use href="#c" x="2055" y="1336"/><use href="#c" x="2061" y="1336"/><use href="#c" x="2067" y="1336"/><use href="#c" x="2081" y="1336"/><use href="#c" x="1984" y="1284"/><use href="#c" x="2009" y="1284"/><use href="#c" x="2020" y="1284"/><use href="#c" x="2044" y="1284"/><use href="#c" x="2055" y="1284"/><use href="#c" x="1970" y="1253"/><use href="#c" x="1995" y="1253"/><use href="#c" x="2012" y="1253"/><use href="#c" x="2024" y="1253"/><use href="#c" x="2037" y="1253"/><use href="#c" x="2043" y="1253"/><use href="#c" x="2048" y="1253"/><use href="#c" x="1980" y="1232"/><use href="#c" x="1987" y="1232"/><use href="#c" x="1998" y="1232"/><use href="#c" x="2026" y="1232"/><use href="#c" x="2076" y="1232"/><use href="#c" x="1963" y="1215"/><use href="#c" x="2005" y="1215"/><use href="#c" x="1945" y="1201"/><use href="#c" x="1977" y="1201"/><use href="#c" x="2002" y="1201"/><use href="#c" x="1966" y="1190"/><use href="#c" x="1953" y="1179"/><use href="#c" x="1974" y="1179"/><use href="#c" x="1991" y="1156"/><use href="#c" x="1952" y="1127"/><use href="#c" x="2087" y="1078"/><use href="#c" x="1938" y="282"/>
<use href="#x" x="380" y="1156"/><use href="#x" x="383" y="1190"/><use href="#x" x="387" y="1138"/><use href="#x" x="391" y="1149"/><use href="#x" x="394" y="1163"/><use href="#x" x="398" y="1143"/><use href="#x" x="402" y="1180"/><use href="#x" x="405" y="1163"/><use href="#x" x="409" y="1133"/><use href="#x" x="413" y="1128"/><use href="#x" x="416" y="1123"/><use href="#x" x="420" y="1123"/><use href="#x" x="424" y="1107"/><use href="#x" x="428" y="1119"/><use href="#x" x="431" y="1163"/><use href="#x" x="435" y="1107"/><use href="#x" x="439" y="1119"/><use href="#x" x="442" y="1097"/><use href="#x" x="446" y="1104"/><use href="#x" x="450" y="1111"/><use href="#x" x="453" y="1097"/><use href="#x" x="457" y="1091"/><use href="#x" x="461" y="1085"/><use href="#x" x="464" y="1078"/><use href="#x" x="468" y="1085"/><use href="#x" x="472" y="1071"/><use href="#x" x="475" y="1100"/><use href="#x" x="479" y="1057"/><use href="#x" x="483" y="1097"/><use href="#x" x="486" y="1064"/><use href="#x" x="490" y="1046"/><use href="#x" x="494" y="1039"/><use href="#x" x="497" y="1062"/><use href="#x" x="501" y="1028"/><use href="#x" x="505" y="1042"/><use href="#x" x="508" y="1028"/><use href="#x" x="512" y="1029"/><use href="#x" x="516" y="1021"/><use href="#x" x="519" y="1013"/><use href="#x" x="523" y="1007"/><use href="#x" x="527" y="1014"/><use href="#x" x="530" y="1024"/><use href="#x" x="534" y="1025"/><use href="#x" x="538" y="1004"/><use href="#x" x="541" y="987"/><use href="#x" x="545" y="996"/><use href="#x" x="549" y="999"/><use href="#x" x="552" y="992"/><use href="#x" x="556" y="979"/><use href="#x" x="560" y="989"/><use href="#x" x="563" y="981"/><use href="#x" x="567" y="953"/><use href="#x" x="571" y="960"/><use href="#x" x="574" y="965"/><use href="#x" x="578" y="951"/><use href="#x" x="582" y="954"/><use href="#x" x="585" y="949"/><use href="#x" x="589" y="933"/><use href="#x" x="593" y="933"/><use href="#x" x="597" y="926"/><use href="#x" x="600" y="932"/><use href="#x" x="604" y="929"/><use href="#x" x="608" y="917"/><use href="#x" x="611" y="911"/><use href="#x" x="615" y="902"/><use href="#x" x="619" y="907"/><use href="#x" x="622" y="893"/><use href="#x" x="626" y="888"/><use href="#x" x="630" y="888"/><use href="#x" x="633" y="886"/><use href="#x" x="637" y="884"/><use href="#x" x="641" y="879"/><use href="#x" x="644" y="873"/><use href="#x" x="648" y="866"/><use href="#x" x="652" y="863"/><use href="#x" x="655" y="863"/><use href="#x" x="659" y="857"/><use href="#x" x="663" y="846"/><use href="#x" x="666" y="840"/><use href="#x" x="670" y="846"/><use href="#x" x="674" y="839"/><use href="#x" x="677" y="825"/><use href="#x" x="681" y="825"/><use href="#x" x="685" y="822"/><use href="#x" x="688" y="817"/><use href="#x" x="692" y="813"/><use href="#x" x="696" y="807"/><use href="#x" x="699" y="803"/><use href="#x" x="703" y="804"/><use href="#x" x="707" y="793"/><use href="#x" x="710" y="789"/><use href="#x" x="714" y="786"/><use href="#x" x="718" y="783"/><use href="#x" x="721" y="773"/><use href="#x" x="725" y="771"/><use href="#x" x="729" y="769"/><use href="#x" x="732" y="763"/><use href="#x" x="736" y="757"/><use href="#x" x="740" y="753"/><use href="#x" x="743" y="750"/><use href="#x" x="747" y="746"/><use href="#x" x="751" y="736"/><use href="#x" x="754" y="735"/><use href="#x" x="758" y="729"/><use href="#x" x="762" y="720"/><use href="#x" x="766" y="722"/><use href="#x" x="769" y="714"/><use href="#x" x="773" y="711"/><use href="#x" x="777" y="705"/><use href="#x" x="780" y="698"/><use href="#x" x="784" y="694"/><use href="#x" x="788" y="690"/><use href="#x" x="791" y="685"/><use href="#x" x="795" y="681"/><use href="#x" x="799" y="675"/><use href="#x" x="802" y="671"/><use href="#x" x="806" y="666"/><use href="#x" x="810" y="660"/><use href="#x" x="813" y="655"/><use href="#x" x="817" y="651"/><use href="#x" x="821" y="645"/><use href="#x" x="824" y="641"/><use href="#x" x="828" y="636"/><use href="#x" x="832" y="632"/><use href="#x" x="835" y="626"/><use href="#x" x="839" y="622"/><use href="#x" x="843" y="617"/><use href="#x" x="846" y="610"/><use href="#x" x="850" y="607"/><use href="#x" x="854" y="601"/><use href="#x" x="857" y="595"/><use href="#x" x="861" y="591"/><use href="#x" x="865" y="586"/><use href="#x" x="868" y="580"/><use href="#x" x="872" y="575"/><use href="#x" x="876" y="571"/><use href="#x" x="879" y="565"/><use href="#x" x="883" y="561"/><use href="#x" x="887" y="555"/><use href="#x" x="890" y="550"/><use href="#x" x="894" y="544"/><use href="#x" x="898" y="540"/><use href="#x" x="901" y="535"/><use href="#x" x="905" y="530"/><use href="#x" x="909" y="525"/><use href="#x" x="912" y="519"/><use href="#x" x="916" y="514"/><use href="#x" x="920" y="509"/><use href="#x" x="923" y="504"/><use href="#x" x="927" y="498"/><use href="#x" x="931" y="493"/><use href="#x" x="935" y="488"/><use href="#x" x="938" y="483"/><use href="#x" x="942" y="478"/><use href="#x" x="946" y="473"/><use href="#x" x="949" y="467"/><use href="#x" x="953" y="462"/><use href="#x" x="957" y="457"/><use href="#x" x="960" y="452"/><use href="#x" x="964" y="447"/><use href="#x" x="968" y="442"/><use href="#x" x="971" y="436"/><use href="#x" x="975" y="431"/><use href="#x" x="979" y="426"/><use href="#x" x="982" y="421"/><use href="#x" x="986" y="415"/><use href="#x" x="990" y="410"/><use href="#x" x="993" y="405"/><use href="#x" x="997" y="400"/><use href="#x" x="1001" y="395"/><use href="#x" x="1004" y="390"/><use href="#x" x="1008" y="384"/><use href="#x" x="1012" y="380"/><use href="#x" x="1015" y="374"/><use href="#x" x="1019" y="370"/><use href="#x" x="1023" y="364"/><use href="#x" x="1026" y="359"/><use href="#x" x="1030" y="355"/><use href="#x" x="1034" y="350"/><use href="#x" x="1037" y="345"/><use href="#x" x="1041" y="340"/><use href="#x" x="1045" y="335"/><use href="#x" x="1048" y="330"/><use href="#x" x="1052" y="326"/><use href="#x" x="1056" y="321"/><use href="#x" x="1059" y="316"/><use href="#x" x="1063" y="312"/><use href="#x" x="1067" y="307"/><use href="#x" x="1070" y="303"/><use href="#x" x="1074" y="298"/><use href="#x" x="1078" y="294"/><use href="#x" x="1081" y="290"/><use href="#x" x="1085" y="286"/><use href="#x" x="1089" y="282"/><use href="#x" x="1092" y="278"/><use href="#x" x="1096" y="274"/><use href="#x" x="1100" y="270"/><use href="#x" x="1104" y="267"/><use href="#x" x="1107" y="263"/><use href="#x" x="1111" y="260"/><use href="#x" x="1115" y="256"/><use href="#x" x="1118" y="253"/><use href="#x" x="1122" y="250"/><use href="#x" x="1126" y="248"/><use href="#x" x="1129" y="245"/><use href="#x" x="1133" y="242"/><use href="#x" x="1137" y="240"/><use href="#x" x="1140" y="238"/><use href="#x" x="1144" y="236"/><use href="#x" x="1148" y="234"/><use href="#x" x="1151" y="233"/><use href="#x" x="1155" y="231"/><use href="#x" x="1159" y="230"/><use href="#x" x="1162" y="229"/><use href="#x" x="1166" y="229"/><use href="#x" x="1170" y="228"/><use href="#x" x="1173" y="228"/><use href="#x" x="1177" y="228"/><use href="#x" x="1181" y="228"/><use href="#x" x="1184" y="228"/><use href="#x" x="1188" y="229"/><use href="#x" x="1192" y="229"/><use href="#x" x="1195" y="230"/><use href="#x" x="1199" y="231"/><use href="#x" x="1203" y="233"/><use href="#x" x="1206" y="234"/><use href="#x" x="1210" y="236"/><use href="#x" x="1214" y="238"/><use href="#x" x="1217" y="240"/><use href="#x" x="1221" y="242"/><use href="#x" x="1225" y="245"/><use href="#x" x="1228" y="248"/><use href="#x" x="1232" y="250"/><use href="#x" x="1236" y="253"/><use href="#x" x="1239" y="256"/><use href="#x" x="1243" y="260"/><use href="#x" x="1247" y="263"/><use href="#x" x="1250" y="267"/><use href="#x" x="1254" y="270"/><use href="#x" x="1258" y="274"/><use href="#x" x="1262" y="278"/><use href="#x" x="1265" y="282"/><use href="#x" x="1269" y="286"/><use href="#x" x="1273" y="290"/><use href="#x" x="1276" y="294"/><use href="#x" x="1280" y="298"/><use href="#x" x="1284" y="303"/><use href="#x" x="1287" y="307"/><use href="#x" x="1291" y="312"/><use href="#x" x="1295" y="316"/><use href="#x" x="1298" y="321"/><use href="#x" x="1302" y="325"/><use href="#x" x="1306" y="330"/><use href="#x" x="1309" y="335"/><use href="#x" x="1313" y="340"/><use href="#x" x="1317" y="345"/><use href="#x" x="1320" y="350"/><use href="#x" x="1324" y="355"/><use href="#x" x="1328" y="359"/><use href="#x" x="1331" y="365"/><use href="#x" x="1335" y="369"/><use href="#x" x="1339" y="375"/><use href="#x" x="1342" y="379"/><use href="#x" x="1346" y="385"/><use href="#x" x="1350" y="390"/><use href="#x" x="1353" y="395"/><use href="#x" x="1357" y="400"/><use href="#x" x="1361" y="405"/><use href="#x" x="1364" y="410"/><use href="#x" x="1368" y="416"/><use href="#x" x="1372" y="421"/><use href="#x" x="1375" y="426"/><use href="#x" x="1379" y="431"/><use href="#x" x="1383" y="436"/><use href="#x" x="1386" y="441"/><use href="#x" x="1390" y="447"/><use href="#x" x="1394" y="452"/><use href="#x" x="1397" y="457"/><use href="#x" x="1401" y="462"/><use href="#x" x="1405" y="468"/><use href="#x" x="1408" y="472"/><use href="#x" x="1412" y="478"/><use href="#x" x="1416" y="483"/><use href="#x" x="1419" y="488"/><use href="#x" x="1423" y="493"/><use href="#x" x="1427" y="499"/><use href="#x" x="1431" y="504"/><use href="#x" x="1434" y="509"/><use href="#x" x="1438" y="514"/><use href="#x" x="1442" y="519"/><use href="#x" x="1445" y="524"/><use href="#x" x="1449" y="530"/><use href="#x" x="1453" y="535"/><use href="#x" x="1456" y="540"/><use href="#x" x="1460" y="545"/><use href="#x" x="1464" y="550"/><use href="#x" x="1467" y="555"/><use href="#x" x="1471" y="561"/><use href="#x" x="1475" y="565"/><use href="#x" x="1478" y="570"/><use href="#x" x="1482" y="575"/><use href="#x" x="1486" y="580"/><use href="#x" x="1489" y="585"/><use href="#x" x="1493" y="591"/><use href="#x" x="1497" y="597"/><use href="#x" x="1500" y="601"/><use href="#x" x="1504" y="607"/><use href="#x" x="1508" y="611"/><use href="#x" x="1511" y="616"/><use href="#x" x="1515" y="620"/><use href="#x" x="1519" y="627"/><use href="#x" x="1522" y="631"/><use href="#x" x="1526" y="636"/><use href="#x" x="1530" y="642"/><use href="#x" x="1533" y="647"/><use href="#x" x="1537" y="652"/><use href="#x" x="1541" y="657"/><use href="#x" x="1544" y="661"/><use href="#x" x="1548" y="667"/><use href="#x" x="1552" y="670"/><use href="#x" x="1555" y="675"/><use href="#x" x="1559" y="682"/><use href="#x" x="1563" y="686"/><use href="#x" x="1566" y="690"/><use href="#x" x="1570" y="694"/><use href="#x" x="1574" y="700"/><use href="#x" x="1577" y="704"/><use href="#x" x="1581" y="708"/><use href="#x" x="1585" y="712"/><use href="#x" x="1588" y="720"/><use href="#x" x="1592" y="722"/><use href="#x" x="1596" y="729"/><use href="#x" x="1600" y="738"/><use href="#x" x="1603" y="738"/><use href="#x" x="1607" y="745"/><use href="#x" x="1611" y="747"/><use href="#x" x="1614" y="753"/><use href="#x" x="1618" y="759"/><use href="#x" x="1622" y="763"/><use href="#x" x="1625" y="764"/><use href="#x" x="1629" y="776"/><use href="#x" x="1633" y="777"/><use href="#x" x="1636" y="786"/><use href="#x" x="1640" y="782"/><use href="#x" x="1644" y="791"/><use href="#x" x="1647" y="798"/><use href="#x" x="1651" y="799"/><use href="#x" x="1655" y="804"/><use href="#x" x="1658" y="813"/><use href="#x" x="1662" y="814"/><use href="#x" x="1666" y="818"/><use href="#x" x="1669" y="827"/><use href="#x" x="1673" y="824"/><use href="#x" x="1677" y="830"/><use href="#x" x="1680" y="838"/><use href="#x" x="1684" y="847"/><use href="#x" x="1688" y="847"/><use href="#x" x="1691" y="859"/><use href="#x" x="1695" y="849"/><use href="#x" x="1699" y="864"/><use href="#x" x="1702" y="861"/><use href="#x" x="1706" y="867"/><use href="#x" x="1710" y="875"/><use href="#x" x="1713" y="877"/><use href="#x" x="1717" y="887"/><use href="#x" x="1721" y="889"/><use href="#x" x="1724" y="889"/><use href="#x" x="1728" y="893"/><use href="#x" x="1732" y="904"/><use href="#x" x="1735" y="900"/><use href="#x" x="1739" y="903"/><use href="#x" x="1743" y="910"/><use href="#x" x="1746" y="913"/><use href="#x" x="1750" y="922"/><use href="#x" x="1754" y="910"/><use href="#x" x="1757" y="952"/><use href="#x" x="1761" y="941"/><use href="#x" x="1765" y="939"/><use href="#x" x="1769" y="939"/><use href="#x" x="1772" y="956"/><use href="#x" x="1776" y="965"/><use href="#x" x="1780" y="971"/><use href="#x" x="1783" y="967"/><use href="#x" x="1787" y="962"/><use href="#x" x="1791" y="983"/><use href="#x" x="1794" y="972"/><use href="#x" x="1798" y="979"/><use href="#x" x="1802" y="979"/><use href="#x" x="1805" y="972"/><use href="#x" x="1809" y="992"/><use href="#x" x="1813" y="997"/><use href="#x" x="1816" y="980"/><use href="#x" x="1820" y="1007"/><use href="#x" x="1824" y="1007"/><use href="#x" x="1827" y="1000"/><use href="#x" x="1831" y="1036"/><use href="#x" x="1835" y="1018"/><use href="#x" x="1838" y="1033"/><use href="#x" x="1842" y="1027"/><use href="#x" x="1846" y="1034"/><use href="#x" x="1849" y="1036"/><use href="#x" x="1853" y="1036"/><use href="#x" x="1857" y="1059"/><use href="#x" x="1860" y="1055"/><use href="#x" x="1864" y="1071"/><use href="#x" x="1868" y="1059"/><use href="#x" x="1871" y="1085"/><use href="#x" x="1875" y="1062"/><use href="#x" x="1879" y="1073"/><use href="#x" x="1882" y="1100"/><use href="#x" x="1886" y="1085"/><use href="#x" x="1890" y="1078"/><use href="#x" x="1893" y="1100"/><use href="#x" x="1897" y="1107"/><use href="#x" x="1901" y="1083"/><use href="#x" x="1904" y="1083"/><use href="#x" x="1908" y="1115"/><use href="#x" x="1912" y="1088"/><use href="#x" x="1915" y="1083"/><use href="#x" x="1919" y="1128"/><use href="#x" x="1923" y="1133"/><use href="#x" x="1926" y="1156"/><use href="#x" x="1930" y="1156"/><use href="#x" x="1934" y="1163"/><use href="#x" x="1938" y="1202"/><use href="#x" x="1941" y="1156"/><use href="#x" x="271" y="1337"/><use href="#x" x="277" y="1337"/><use href="#x" x="280" y="1337"/><use href="#x" x="284" y="1337"/><use href="#x" x="288" y="1337"/><use href="#x" x="292" y="1337"/><use href="#x" x="299" y="1337"/><use href="#x" x="303" y="1337"/><use href="#x" x="320" y="1337"/><use href="#x" x="270" y="1285"/><use href="#x" x="292" y="1285"/><use href="#x" x="313" y="1285"/><use href="#x" x="336" y="1285"/><use href="#x" x="339" y="1285"/><use href="#x" x="343" y="1285"/><use href="#x" x="347" y="1285"/><use href="#x" x="359" y="1285"/><use href="#x" x="299" y="1254"/><use href="#x" x="310" y="1254"/><use href="#x" x="334" y="1254"/><use href="#x" x="352" y="1254"/><use href="#x" x="370" y="1254"/><use href="#x" x="317" y="1232"/><use href="#x" x="327" y="1215"/><use href="#x" x="348" y="1215"/><use href="#x" x="352" y="1215"/><use href="#x" x="362" y="1215"/><use href="#x" x="368" y="1215"/><use href="#x" x="331" y="1202"/><use href="#x" x="363" y="1202"/><use href="#x" x="373" y="1202"/><use href="#x" x="376" y="1180"/><use href="#x" x="379" y="1171"/><use href="#x" x="267" y="1128"/><use href="#x" x="1988" y="1337"/><use href="#x" x="2019" y="1337"/><use href="#x" x="2024" y="1337"/><use href="#x" x="2043" y="1337"/><use href="#x" x="2047" y="1337"/><use href="#x" x="2051" y="1337"/><use href="#x" x="2058" y="1337"/><use href="#x" x="2062" y="1337"/><use href="#x" x="2067" y="1337"/><use href="#x" x="2075" y="1337"/><use href="#x" x="2023" y="1285"/><use href="#x" x="2037" y="1285"/><use href="#x" x="2051" y="1285"/><use href="#x" x="2065" y="1285"/><use href="#x" x="2069" y="1285"/><use href="#x" x="1981" y="1254"/><use href="#x" x="2012" y="1254"/><use href="#x" x="2034" y="1254"/><use href="#x" x="2076" y="1254"/><use href="#x" x="2016" y="1232"/><use href="#x" x="2030" y="1232"/><use href="#x" x="1959" y="1215"/><use href="#x" x="1984" y="1215"/><use href="#x" x="2041" y="1215"/><use href="#x" x="2080" y="1215"/><use href="#x" x="2002" y="1202"/><use href="#x" x="2055" y="1202"/><use href="#x" x="1975" y="1190"/><use href="#x" x="1980" y="1190"/><use href="#x" x="1991" y="1190"/><use href="#x" x="1998" y="1190"/><use href="#x" x="2009" y="1190"/><use href="#x" x="1963" y="1180"/><use href="#x" x="1965" y="1180"/><use href="#x" x="2006" y="1180"/><use href="#x" x="1968" y="1171"/><use href="#x" x="1995" y="1171"/><use href="#x" x="1952" y="1128"/><use href="#x" x="2087" y="1091"/><use href="#x" x="1938" y="344"/>
</g>
</g>
<g id="panel-b">
<text transform="translate(1058.06,1751) scale(0.9,1)" style="font-size:87px;">(</text>
<text x="1083.87" y="1752.5" font-weight="bold" style="font-size:89px;">b</text>
<text transform="translate(1135.98,1751) scale(0.9,1)" style="font-size:87px;">)</text>
<g fill="#000" shape-rendering="crispEdges">
<rect x="263" y="1849" width="1841" height="4"/>
<rect x="263" y="3064" width="1841" height="4"/>
<rect x="263" y="1849" width="4" height="1219"/>
<rect x="2100" y="1849" width="4" height="1219"/>
<rect x="447" y="1851" width="4" height="20"/>
<rect x="447" y="3046" width="4" height="20"/>
<rect x="630" y="1851" width="4" height="20"/>
<rect x="630" y="3046" width="4" height="20"/>
<rect x="814" y="1851" width="4" height="20"/>
<rect x="814" y="3046" width="4" height="20"/>
<rect x="998" y="1851" width="4" height="20"/>
<rect x="998" y="3046" width="4" height="20"/>
<rect x="1181" y="1851" width="4" height="20"/>
<rect x="1181" y="3046" width="4" height="20"/>
<rect x="1365" y="1851" width="4" height="20"/>
<rect x="1365" y="3046" width="4" height="20"/>
<rect x="1549" y="1851" width="4" height="20"/>
<rect x="1549" y="3046" width="4" height="20"/>
<rect x="1733" y="1851" width="4" height="20"/>
<rect x="1733" y="3046" width="4" height="20"/>
<rect x="1916" y="1851" width="4" height="20"/>
<rect x="1916" y="3046" width="4" height="20"/>
<rect x="265" y="1866" width="10" height="4"/>
<rect x="2092" y="1866" width="10" height="4"/>
<rect x="265" y="1901" width="10" height="4"/>
<rect x="2092" y="1901" width="10" height="4"/>
<rect x="265" y="1970" width="10" height="4"/>
<rect x="2092" y="1970" width="10" height="4"/>
<rect x="265" y="2023" width="20" height="4"/>
<rect x="2082" y="2023" width="20" height="4"/>
<rect x="265" y="2039" width="10" height="4"/>
<rect x="2092" y="2039" width="10" height="4"/>
<rect x="265" y="2075" width="10" height="4"/>
<rect x="2092" y="2075" width="10" height="4"/>
<rect x="265" y="2144" width="10" height="4"/>
<rect x="2092" y="2144" width="10" height="4"/>
<rect x="265" y="2196" width="20" height="4"/>
<rect x="2082" y="2196" width="20" height="4"/>
<rect x="265" y="2213" width="10" height="4"/>
<rect x="2092" y="2213" width="10" height="4"/>
<rect x="265" y="2248" width="10" height="4"/>
<rect x="2092" y="2248" width="10" height="4"/>
<rect x="265" y="2317" width="10" height="4"/>
<rect x="2092" y="2317" width="10" height="4"/>
<rect x="265" y="2370" width="20" height="4"/>
<rect x="2082" y="2370" width="20" height="4"/>
<rect x="265" y="2387" width="10" height="4"/>
<rect x="2092" y="2387" width="10" height="4"/>
<rect x="265" y="2422" width="10" height="4"/>
<rect x="2092" y="2422" width="10" height="4"/>
<rect x="265" y="2491" width="10" height="4"/>
<rect x="2092" y="2491" width="10" height="4"/>
<rect x="265" y="2543" width="20" height="4"/>
<rect x="2082" y="2543" width="20" height="4"/>
<rect x="265" y="2560" width="10" height="4"/>
<rect x="2092" y="2560" width="10" height="4"/>
<rect x="265" y="2596" width="10" height="4"/>
<rect x="2092" y="2596" width="10" height="4"/>
<rect x="265" y="2665" width="10" height="4"/>
<rect x="2092" y="2665" width="10" height="4"/>
<rect x="265" y="2717" width="20" height="4"/>
<rect x="2082" y="2717" width="20" height="4"/>
<rect x="265" y="2734" width="10" height="4"/>
<rect x="2092" y="2734" width="10" height="4"/>
<rect x="265" y="2769" width="10" height="4"/>
<rect x="2092" y="2769" width="10" height="4"/>
<rect x="265" y="2838" width="10" height="4"/>
<rect x="2092" y="2838" width="10" height="4"/>
<rect x="265" y="2890" width="20" height="4"/>
<rect x="2082" y="2890" width="20" height="4"/>
<rect x="265" y="2907" width="10" height="4"/>
<rect x="2092" y="2907" width="10" height="4"/>
<rect x="265" y="2943" width="10" height="4"/>
<rect x="2092" y="2943" width="10" height="4"/>
<rect x="265" y="3012" width="10" height="4"/>
<rect x="2092" y="3012" width="10" height="4"/>
</g>
<text x="229" y="1877.2" text-anchor="end">10<tspan dy="-30" font-size="49.6">0</tspan></text>
<text x="229" y="2050.77" text-anchor="end">10<tspan dy="-30" font-size="49.6">-1</tspan></text>
<text x="229" y="2224.34" text-anchor="end">10<tspan dy="-30" font-size="49.6">-2</tspan></text>
<text x="229" y="2397.91" text-anchor="end">10<tspan dy="-30" font-size="49.6">-3</tspan></text>
<text x="229" y="2571.49" text-anchor="end">10<tspan dy="-30" font-size="49.6">-4</tspan></text>
<text x="229" y="2745.06" text-anchor="end">10<tspan dy="-30" font-size="49.6">-5</tspan></text>
<text x="229" y="2918.63" text-anchor="end">10<tspan dy="-30" font-size="49.6">-6</tspan></text>
<text x="229" y="3092.2" text-anchor="end">10<tspan dy="-30" font-size="49.6">-7</tspan></text>
<text x="265" y="3148" text-anchor="middle">-10</text>
<text x="448.7" y="3148" text-anchor="middle">-8</text>
<text x="632.4" y="3148" text-anchor="middle">-6</text>
<text x="816.1" y="3148" text-anchor="middle">-4</text>
<text x="999.8" y="3148" text-anchor="middle">-2</text>
<text x="1191.25" y="3148" text-anchor="middle">0</text>
<text x="1374.95" y="3148" text-anchor="middle">2</text>
<text x="1558.65" y="3148" text-anchor="middle">4</text>
<text x="1742.35" y="3148" text-anchor="middle">6</text>
<text x="1926.05" y="3148" text-anchor="middle">8</text>
<text x="2109.75" y="3148" text-anchor="middle">10</text>
<text x="1762.8" y="1914.1" text-anchor="end">PDF(</text>
<text x="1761.79" y="1914.1">j</text>
<text x="1778.61" y="1931.8" style="font-size:49.6px;">1</text>
<text x="1804" y="1914.1">)</text>
<text x="1762.8" y="1975.4" text-anchor="end">PDF(</text>
<text x="1761.79" y="1975.4">j</text>
<text x="1779.58" y="1993.1" style="font-size:49.6px;">2</text>
<text x="1804" y="1975.4">)</text>
<text x="1762.8" y="2038" text-anchor="end">PDF(</text>
<text x="1761.79" y="2038">j</text>
<text x="1779.08" y="2055.7" style="font-size:49.6px;">3</text>
<text x="1804" y="2038">)</text>
<text x="965.59" y="3240.4">j</text>
<text x="982.96" y="3258.4" style="font-size:49.6px;">i</text>
<text x="1011" y="3240.4">/</text>
<text x="1028.89" y="3240.4" style="font-size:66px;stroke:#000;stroke-width:0.6px;">σ</text>
<text x="1066.23" y="3208.4" style="font-size:49.6px;">j</text>
<text x="1079.76" y="3258.4" style="font-size:49.6px;">i</text>
<text x="1109.08" y="3240.4">(</text>
<text x="1144.5" y="3240.4">i</text>
<text transform="translate(1175.34,3240.4) scale(1.09,1)">=</text>
<text x="1226.04" y="3240.4">1</text>
<text x="1259.74" y="3240.4">,</text>
<text x="1288.08" y="3240.4">2</text>
<text x="1321.94" y="3240.4">,</text>
<text x="1350.03" y="3240.4">3</text>
<text x="1380.8" y="3240.4">)</text>
<g transform="translate(71,2719.8) rotate(-90)">
<text x="-1.79" y="0">P</text>
<text x="34.48" y="0">(</text>
<text x="52.99" y="0">j</text>
<text x="70.36" y="18" style="font-size:49.6px;">i</text>
<text x="84.8" y="0">)</text>
<text x="121.57" y="0">*</text>
<text x="150.29" y="0" style="font-size:66px;stroke:#000;stroke-width:0.6px;">σ</text>
<text x="185.93" y="-32" style="font-size:49.6px;">j</text>
<text x="201.76" y="18" style="font-size:49.6px;">i</text>
<text x="231.28" y="0">(</text>
<text x="266.49" y="0">i</text>
<text transform="translate(297.14,0) scale(1.09,1)">=</text>
<text x="347.45" y="0">1</text>
<text x="381.04" y="0">,</text>
<text x="409.2" y="0">2</text>
<text x="442.86" y="0">,</text>
<text x="470.79" y="0">3</text>
<text x="501.38" y="0">)</text>
</g>
<g shape-rendering="crispEdges">
<path fill="#f00" d="M549 2792h13v13h-13zM552 2767h13v13h-13zM556 2796h13v13h-13zM560 2792h13v13h-13zM563 2811h13v13h-13zM567 2770h13v13h-13zM571 2829h13v13h-13zM574 2774h13v13h-13zM578 2780h13v13h-13zM582 2792h13v13h-13zM585 2801h13v13h-13zM589 2764h13v13h-13zM593 2780h13v13h-13zM597 2764h13v13h-13zM600 2749h13v13h-13zM604 2738h13v13h-13zM608 2730h13v13h-13zM611 2736h13v13h-13zM615 2740h13v13h-13zM619 2711h13v13h-13zM622 2709h13v13h-13zM626 2726h13v13h-13zM630 2702h13v13h-13zM633 2692h13v13h-13zM637 2687h13v13h-13zM641 2669h13v13h-13zM644 2681h13v13h-13zM648 2691h13v13h-13zM652 2651h13v13h-13zM655 2656h13v13h-13zM659 2641h13v13h-13zM663 2648h13v13h-13zM666 2629h13v13h-13zM670 2638h13v13h-13zM674 2621h13v13h-13zM677 2627h13v13h-13zM681 2614h13v13h-13zM685 2601h13v13h-13zM688 2595h13v13h-13zM692 2591h13v13h-13zM696 2588h13v13h-13zM699 2581h13v13h-13zM703 2572h13v13h-13zM707 2570h13v13h-13zM710 2563h13v13h-13zM714 2556h13v13h-13zM718 2551h13v13h-13zM721 2540h13v13h-13zM725 2532h13v13h-13zM729 2532h13v13h-13zM732 2527h13v13h-13zM736 2513h13v13h-13zM740 2518h13v13h-13zM743 2501h13v13h-13zM747 2493h13v13h-13zM751 2493h13v13h-13zM754 2481h13v13h-13zM758 2474h13v13h-13zM762 2470h13v13h-13zM766 2463h13v13h-13zM769 2456h13v13h-13zM773 2452h13v13h-13zM777 2444h13v13h-13zM780 2436h13v13h-13zM784 2426h13v13h-13zM788 2421h13v13h-13zM791 2418h13v13h-13zM795 2411h13v13h-13zM799 2403h13v13h-13zM802 2400h13v13h-13zM806 2391h13v13h-13zM810 2384h13v13h-13zM813 2379h13v13h-13zM817 2371h13v13h-13zM821 2366h13v13h-13zM824 2358h13v13h-13zM828 2352h13v13h-13zM832 2344h13v13h-13zM835 2338h13v13h-13zM839 2331h13v13h-13zM843 2324h13v13h-13zM846 2317h13v13h-13zM850 2311h13v13h-13zM854 2306h13v13h-13zM857 2299h13v13h-13zM861 2290h13v13h-13zM865 2284h13v13h-13zM868 2277h13v13h-13zM872 2272h13v13h-13zM876 2265h13v13h-13zM879 2259h13v13h-13zM883 2252h13v13h-13zM887 2245h13v13h-13zM890 2238h13v13h-13zM894 2232h13v13h-13zM898 2226h13v13h-13zM901 2219h13v13h-13zM905 2213h13v13h-13zM909 2206h13v13h-13zM912 2200h13v13h-13zM916 2194h13v13h-13zM920 2187h13v13h-13zM923 2181h13v13h-13zM927 2174h13v13h-13zM931 2168h13v13h-13zM935 2162h13v13h-13zM938 2155h13v13h-13zM942 2149h13v13h-13zM946 2143h13v13h-13zM949 2137h13v13h-13zM953 2131h13v13h-13zM957 2125h13v13h-13zM960 2119h13v13h-13zM964 2113h13v13h-13zM968 2106h13v13h-13zM971 2100h13v13h-13zM975 2095h13v13h-13zM979 2089h13v13h-13zM982 2083h13v13h-13zM986 2077h13v13h-13zM990 2072h13v13h-13zM993 2066h13v13h-13zM997 2061h13v13h-13zM1001 2055h13v13h-13zM1004 2050h13v13h-13zM1008 2044h13v13h-13zM1012 2039h13v13h-13zM1015 2034h13v13h-13zM1019 2028h13v13h-13zM1023 2023h13v13h-13zM1026 2019h13v13h-13zM1030 2014h13v13h-13zM1034 2009h13v13h-13zM1037 2004h13v13h-13zM1041 1999h13v13h-13zM1045 1995h13v13h-13zM1048 1990h13v13h-13zM1052 1986h13v13h-13zM1056 1982h13v13h-13zM1059 1977h13v13h-13zM1063 1973h13v13h-13zM1067 1969h13v13h-13zM1070 1965h13v13h-13zM1074 1962h13v13h-13zM1078 1958h13v13h-13zM1081 1954h13v13h-13zM1085 1951h13v13h-13zM1089 1948h13v13h-13zM1092 1945h13v13h-13zM1096 1941h13v13h-13zM1100 1938h13v13h-13zM1104 1936h13v13h-13zM1107 1933h13v13h-13zM1111 1930h13v13h-13zM1115 1928h13v13h-13zM1118 1926h13v13h-13zM1122 1923h13v13h-13zM1126 1921h13v13h-13zM1129 1919h13v13h-13zM1133 1918h13v13h-13zM1137 1916h13v13h-13zM1140 1914h13v13h-13zM1144 1913h13v13h-13zM1148 1912h13v13h-13zM1151 1911h13v13h-13zM1155 1910h13v13h-13zM1159 1909h13v13h-13zM1162 1908h13v13h-13zM1166 1908h13v13h-13zM1170 1907h13v13h-13zM1173 1907h13v13h-13zM1177 1907h13v13h-13zM1181 1907h13v13h-13zM1184 1907h13v13h-13zM1188 1908h13v13h-13zM1192 1908h13v13h-13zM1195 1909h13v13h-13zM1199 1910h13v13h-13zM1203 1911h13v13h-13zM1206 1912h13v13h-13zM1210 1913h13v13h-13zM1214 1914h13v13h-13zM1217 1916h13v13h-13zM1221 1918h13v13h-13zM1225 1919h13v13h-13zM1228 1921h13v13h-13zM1232 1923h13v13h-13zM1236 1926h13v13h-13zM1239 1928h13v13h-13zM1243 1930h13v13h-13zM1247 1933h13v13h-13zM1250 1936h13v13h-13zM1254 1938h13v13h-13zM1258 1941h13v13h-13zM1262 1945h13v13h-13zM1265 1948h13v13h-13zM1269 1951h13v13h-13zM1273 1954h13v13h-13zM1276 1958h13v13h-13zM1280 1962h13v13h-13zM1284 1965h13v13h-13zM1287 1969h13v13h-13zM1291 1973h13v13h-13zM1295 1977h13v13h-13zM1298 1982h13v13h-13zM1302 1986h13v13h-13zM1306 1990h13v13h-13zM1309 1995h13v13h-13zM1313 1999h13v13h-13zM1317 2004h13v13h-13zM1320 2009h13v13h-13zM1324 2013h13v13h-13zM1328 2019h13v13h-13zM1331 2024h13v13h-13zM1335 2029h13v13h-13zM1339 2034h13v13h-13zM1342 2039h13v13h-13zM1346 2044h13v13h-13zM1350 2050h13v13h-13zM1353 2055h13v13h-13zM1357 2061h13v13h-13zM1361 2066h13v13h-13zM1364 2072h13v13h-13zM1368 2078h13v13h-13zM1372 2083h13v13h-13zM1375 2089h13v13h-13zM1379 2095h13v13h-13zM1383 2101h13v13h-13zM1386 2107h13v13h-13zM1390 2112h13v13h-13zM1394 2119h13v13h-13zM1397 2124h13v13h-13zM1401 2131h13v13h-13zM1405 2137h13v13h-13zM1408 2143h13v13h-13zM1412 2149h13v13h-13zM1416 2155h13v13h-13zM1419 2161h13v13h-13zM1423 2168h13v13h-13zM1427 2174h13v13h-13zM1431 2180h13v13h-13zM1434 2187h13v13h-13zM1438 2193h13v13h-13zM1442 2200h13v13h-13zM1445 2207h13v13h-13zM1449 2213h13v13h-13zM1453 2219h13v13h-13zM1456 2226h13v13h-13zM1460 2232h13v13h-13zM1464 2238h13v13h-13zM1467 2246h13v13h-13zM1471 2251h13v13h-13zM1475 2258h13v13h-13zM1478 2265h13v13h-13zM1482 2271h13v13h-13zM1486 2279h13v13h-13zM1489 2284h13v13h-13zM1493 2291h13v13h-13zM1497 2297h13v13h-13zM1500 2304h13v13h-13zM1504 2311h13v13h-13zM1508 2318h13v13h-13zM1511 2324h13v13h-13zM1515 2332h13v13h-13zM1519 2336h13v13h-13zM1522 2344h13v13h-13zM1526 2352h13v13h-13zM1530 2358h13v13h-13zM1533 2366h13v13h-13zM1537 2370h13v13h-13zM1541 2378h13v13h-13zM1544 2383h13v13h-13zM1548 2390h13v13h-13zM1552 2396h13v13h-13zM1555 2403h13v13h-13zM1559 2412h13v13h-13zM1563 2417h13v13h-13zM1566 2424h13v13h-13zM1570 2428h13v13h-13zM1574 2438h13v13h-13zM1577 2443h13v13h-13zM1581 2450h13v13h-13zM1585 2456h13v13h-13zM1588 2463h13v13h-13zM1592 2467h13v13h-13zM1596 2478h13v13h-13zM1600 2483h13v13h-13zM1603 2489h13v13h-13zM1607 2499h13v13h-13zM1611 2500h13v13h-13zM1614 2512h13v13h-13zM1618 2513h13v13h-13zM1622 2522h13v13h-13zM1625 2528h13v13h-13zM1629 2540h13v13h-13zM1633 2538h13v13h-13zM1636 2544h13v13h-13zM1640 2555h13v13h-13zM1644 2556h13v13h-13zM1647 2570h13v13h-13zM1651 2570h13v13h-13zM1655 2584h13v13h-13zM1658 2580h13v13h-13zM1662 2590h13v13h-13zM1666 2596h13v13h-13zM1669 2608h13v13h-13zM1673 2616h13v13h-13zM1677 2634h13v13h-13zM1680 2618h13v13h-13zM1684 2626h13v13h-13zM1688 2633h13v13h-13zM1691 2647h13v13h-13zM1695 2640h13v13h-13zM1699 2644h13v13h-13zM1702 2678h13v13h-13zM1706 2669h13v13h-13zM1710 2680h13v13h-13zM1713 2676h13v13h-13zM1717 2675h13v13h-13zM1721 2700h13v13h-13zM1724 2700h13v13h-13zM1728 2699h13v13h-13zM1732 2716h13v13h-13zM1735 2712h13v13h-13zM1739 2711h13v13h-13zM1743 2706h13v13h-13zM1746 2721h13v13h-13zM1750 2746h13v13h-13zM1754 2742h13v13h-13zM1757 2759h13v13h-13zM1761 2746h13v13h-13zM1765 2749h13v13h-13zM1769 2767h13v13h-13zM1772 2777h13v13h-13zM1776 2780h13v13h-13zM1780 2796h13v13h-13zM1783 2788h13v13h-13zM1787 2811h13v13h-13zM1791 2817h13v13h-13zM1794 2770h13v13h-13zM1798 2796h13v13h-13zM1802 2801h13v13h-13zM292 3010h13v13h-13zM380 3010h13v13h-13zM390 3010h13v13h-13zM401 3010h13v13h-13zM413 3010h13v13h-13zM424 3010h13v13h-13zM435 3010h13v13h-13zM446 3010h13v13h-13zM458 3010h13v13h-13zM469 3010h13v13h-13zM267 2958h13v13h-13zM458 2958h13v13h-13zM469 2958h13v13h-13zM441 2927h13v13h-13zM444 2927h13v13h-13zM429 2905h13v13h-13zM479 2905h13v13h-13zM478 3010h13v13h-13zM487 3010h13v13h-13zM512 3010h13v13h-13zM478 2958h13v13h-13zM519 2958h13v13h-13zM502 2927h13v13h-13zM480 2905h13v13h-13zM492 2905h13v13h-13zM505 2905h13v13h-13zM533 2905h13v13h-13zM495 2889h13v13h-13zM506 2889h13v13h-13zM518 2889h13v13h-13zM525 2889h13v13h-13zM540 2889h13v13h-13zM530 2853h13v13h-13zM540 2844h13v13h-13zM516 2836h13v13h-13zM1878 3010h13v13h-13zM1900 3010h13v13h-13zM1912 3010h13v13h-13zM1923 3010h13v13h-13zM1934 3010h13v13h-13zM1909 2958h13v13h-13zM1924 2958h13v13h-13zM1899 2927h13v13h-13zM1906 2927h13v13h-13zM1828 2905h13v13h-13zM1853 2905h13v13h-13zM1867 2905h13v13h-13zM1821 2889h13v13h-13zM1831 2889h13v13h-13zM1881 2889h13v13h-13zM1849 2875h13v13h-13zM1860 2875h13v13h-13zM1895 2875h13v13h-13zM1815 2863h13v13h-13zM1826 2863h13v13h-13zM1837 2863h13v13h-13zM1848 2863h13v13h-13zM1861 2863h13v13h-13zM1874 2863h13v13h-13zM1810 2853h13v13h-13zM1884 2853h13v13h-13zM1813 2819h13v13h-13zM1810 2826h13v13h-13zM1803 2811h13v13h-13zM1942 3010h13v13h-13zM1966 3010h13v13h-13zM1978 3010h13v13h-13zM1984 3010h13v13h-13zM2009 3010h13v13h-13zM2037 3010h13v13h-13zM1938 1894h13v13h-13z"/>
<use href="#c" x="549" y="2810"/><use href="#c" x="552" y="2816"/><use href="#c" x="556" y="2829"/><use href="#c" x="560" y="2822"/><use href="#c" x="563" y="2784"/><use href="#c" x="567" y="2796"/><use href="#c" x="571" y="2787"/><use href="#c" x="574" y="2791"/><use href="#c" x="578" y="2770"/><use href="#c" x="582" y="2770"/><use href="#c" x="585" y="2776"/><use href="#c" x="589" y="2748"/><use href="#c" x="593" y="2753"/><use href="#c" x="597" y="2753"/><use href="#c" x="600" y="2739"/><use href="#c" x="604" y="2741"/><use href="#c" x="608" y="2739"/><use href="#c" x="611" y="2718"/><use href="#c" x="615" y="2713"/><use href="#c" x="619" y="2716"/><use href="#c" x="622" y="2712"/><use href="#c" x="626" y="2739"/><use href="#c" x="630" y="2706"/><use href="#c" x="633" y="2683"/><use href="#c" x="637" y="2677"/><use href="#c" x="641" y="2685"/><use href="#c" x="644" y="2660"/><use href="#c" x="648" y="2673"/><use href="#c" x="652" y="2653"/><use href="#c" x="655" y="2657"/><use href="#c" x="659" y="2648"/><use href="#c" x="663" y="2633"/><use href="#c" x="666" y="2645"/><use href="#c" x="670" y="2629"/><use href="#c" x="674" y="2631"/><use href="#c" x="677" y="2623"/><use href="#c" x="681" y="2602"/><use href="#c" x="685" y="2606"/><use href="#c" x="688" y="2597"/><use href="#c" x="692" y="2587"/><use href="#c" x="696" y="2587"/><use href="#c" x="699" y="2569"/><use href="#c" x="703" y="2573"/><use href="#c" x="707" y="2566"/><use href="#c" x="710" y="2560"/><use href="#c" x="714" y="2552"/><use href="#c" x="718" y="2545"/><use href="#c" x="721" y="2544"/><use href="#c" x="725" y="2532"/><use href="#c" x="729" y="2532"/><use href="#c" x="732" y="2518"/><use href="#c" x="736" y="2517"/><use href="#c" x="740" y="2506"/><use href="#c" x="743" y="2499"/><use href="#c" x="747" y="2496"/><use href="#c" x="751" y="2491"/><use href="#c" x="754" y="2482"/><use href="#c" x="758" y="2476"/><use href="#c" x="762" y="2473"/><use href="#c" x="766" y="2462"/><use href="#c" x="769" y="2458"/><use href="#c" x="773" y="2450"/><use href="#c" x="777" y="2441"/><use href="#c" x="780" y="2435"/><use href="#c" x="784" y="2427"/><use href="#c" x="788" y="2423"/><use href="#c" x="791" y="2415"/><use href="#c" x="795" y="2409"/><use href="#c" x="799" y="2405"/><use href="#c" x="802" y="2397"/><use href="#c" x="806" y="2393"/><use href="#c" x="810" y="2384"/><use href="#c" x="813" y="2379"/><use href="#c" x="817" y="2371"/><use href="#c" x="821" y="2364"/><use href="#c" x="824" y="2357"/><use href="#c" x="828" y="2350"/><use href="#c" x="832" y="2344"/><use href="#c" x="835" y="2337"/><use href="#c" x="839" y="2330"/><use href="#c" x="843" y="2324"/><use href="#c" x="846" y="2318"/><use href="#c" x="850" y="2310"/><use href="#c" x="854" y="2304"/><use href="#c" x="857" y="2298"/><use href="#c" x="861" y="2291"/><use href="#c" x="865" y="2284"/><use href="#c" x="868" y="2277"/><use href="#c" x="872" y="2270"/><use href="#c" x="876" y="2265"/><use href="#c" x="879" y="2258"/><use href="#c" x="883" y="2251"/><use href="#c" x="887" y="2244"/><use href="#c" x="890" y="2238"/><use href="#c" x="894" y="2232"/><use href="#c" x="898" y="2225"/><use href="#c" x="901" y="2219"/><use href="#c" x="905" y="2212"/><use href="#c" x="909" y="2206"/><use href="#c" x="912" y="2200"/><use href="#c" x="916" y="2193"/><use href="#c" x="920" y="2187"/><use href="#c" x="923" y="2180"/><use href="#c" x="927" y="2174"/><use href="#c" x="931" y="2167"/><use href="#c" x="935" y="2161"/><use href="#c" x="938" y="2155"/><use href="#c" x="942" y="2149"/><use href="#c" x="946" y="2143"/><use href="#c" x="949" y="2136"/><use href="#c" x="953" y="2130"/><use href="#c" x="957" y="2124"/><use href="#c" x="960" y="2118"/><use href="#c" x="964" y="2112"/><use href="#c" x="968" y="2106"/><use href="#c" x="971" y="2100"/><use href="#c" x="975" y="2094"/><use href="#c" x="979" y="2089"/><use href="#c" x="982" y="2083"/><use href="#c" x="986" y="2077"/><use href="#c" x="990" y="2071"/><use href="#c" x="993" y="2065"/><use href="#c" x="997" y="2060"/><use href="#c" x="1001" y="2055"/><use href="#c" x="1004" y="2049"/><use href="#c" x="1008" y="2044"/><use href="#c" x="1012" y="2039"/><use href="#c" x="1015" y="2033"/><use href="#c" x="1019" y="2028"/><use href="#c" x="1023" y="2023"/><use href="#c" x="1026" y="2018"/><use href="#c" x="1030" y="2013"/><use href="#c" x="1034" y="2008"/><use href="#c" x="1037" y="2004"/><use href="#c" x="1041" y="1999"/><use href="#c" x="1045" y="1994"/><use href="#c" x="1048" y="1990"/><use href="#c" x="1052" y="1985"/><use href="#c" x="1056" y="1981"/><use href="#c" x="1059" y="1977"/><use href="#c" x="1063" y="1973"/><use href="#c" x="1067" y="1969"/><use href="#c" x="1070" y="1965"/><use href="#c" x="1074" y="1961"/><use href="#c" x="1078" y="1958"/><use href="#c" x="1081" y="1954"/><use href="#c" x="1085" y="1951"/><use href="#c" x="1089" y="1947"/><use href="#c" x="1092" y="1944"/><use href="#c" x="1096" y="1941"/><use href="#c" x="1100" y="1938"/><use href="#c" x="1104" y="1935"/><use href="#c" x="1107" y="1932"/><use href="#c" x="1111" y="1930"/><use href="#c" x="1115" y="1927"/><use href="#c" x="1118" y="1925"/><use href="#c" x="1122" y="1923"/><use href="#c" x="1126" y="1921"/><use href="#c" x="1129" y="1919"/><use href="#c" x="1133" y="1917"/><use href="#c" x="1137" y="1915"/><use href="#c" x="1140" y="1914"/><use href="#c" x="1144" y="1912"/><use href="#c" x="1148" y="1911"/><use href="#c" x="1151" y="1910"/><use href="#c" x="1155" y="1909"/><use href="#c" x="1159" y="1908"/><use href="#c" x="1162" y="1908"/><use href="#c" x="1166" y="1907"/><use href="#c" x="1170" y="1907"/><use href="#c" x="1173" y="1907"/><use href="#c" x="1177" y="1907"/><use href="#c" x="1181" y="1907"/><use href="#c" x="1184" y="1907"/><use href="#c" x="1188" y="1907"/><use href="#c" x="1192" y="1908"/><use href="#c" x="1195" y="1908"/><use href="#c" x="1199" y="1909"/><use href="#c" x="1203" y="1910"/><use href="#c" x="1206" y="1911"/><use href="#c" x="1210" y="1912"/><use href="#c" x="1214" y="1914"/><use href="#c" x="1217" y="1915"/><use href="#c" x="1221" y="1917"/><use href="#c" x="1225" y="1919"/><use href="#c" x="1228" y="1921"/><use href="#c" x="1232" y="1923"/><use href="#c" x="1236" y="1925"/><use href="#c" x="1239" y="1927"/><use href="#c" x="1243" y="1930"/><use href="#c" x="1247" y="1932"/><use href="#c" x="1250" y="1935"/><use href="#c" x="1254" y="1938"/><use href="#c" x="1258" y="1941"/><use href="#c" x="1262" y="1944"/><use href="#c" x="1265" y="1947"/><use href="#c" x="1269" y="1951"/><use href="#c" x="1273" y="1954"/><use href="#c" x="1276" y="1958"/><use href="#c" x="1280" y="1961"/><use href="#c" x="1284" y="1965"/><use href="#c" x="1287" y="1969"/><use href="#c" x="1291" y="1973"/><use href="#c" x="1295" y="1977"/><use href="#c" x="1298" y="1981"/><use href="#c" x="1302" y="1985"/><use href="#c" x="1306" y="1990"/><use href="#c" x="1309" y="1994"/><use href="#c" x="1313" y="1999"/><use href="#c" x="1317" y="2004"/><use href="#c" x="1320" y="2008"/><use href="#c" x="1324" y="2013"/><use href="#c" x="1328" y="2018"/><use href="#c" x="1331" y="2023"/><use href="#c" x="1335" y="2028"/><use href="#c" x="1339" y="2033"/><use href="#c" x="1342" y="2038"/><use href="#c" x="1346" y="2044"/><use href="#c" x="1350" y="2049"/><use href="#c" x="1353" y="2055"/><use href="#c" x="1357" y="2060"/><use href="#c" x="1361" y="2065"/><use href="#c" x="1364" y="2071"/><use href="#c" x="1368" y="2077"/><use href="#c" x="1372" y="2083"/><use href="#c" x="1375" y="2088"/><use href="#c" x="1379" y="2094"/><use href="#c" x="1383" y="2100"/><use href="#c" x="1386" y="2106"/><use href="#c" x="1390" y="2112"/><use href="#c" x="1394" y="2118"/><use href="#c" x="1397" y="2124"/><use href="#c" x="1401" y="2130"/><use href="#c" x="1405" y="2136"/><use href="#c" x="1408" y="2143"/><use href="#c" x="1412" y="2148"/><use href="#c" x="1416" y="2155"/><use href="#c" x="1419" y="2161"/><use href="#c" x="1423" y="2168"/><use href="#c" x="1427" y="2174"/><use href="#c" x="1431" y="2180"/><use href="#c" x="1434" y="2187"/><use href="#c" x="1438" y="2193"/><use href="#c" x="1442" y="2199"/><use href="#c" x="1445" y="2205"/><use href="#c" x="1449" y="2212"/><use href="#c" x="1453" y="2218"/><use href="#c" x="1456" y="2225"/><use href="#c" x="1460" y="2231"/><use href="#c" x="1464" y="2238"/><use href="#c" x="1467" y="2245"/><use href="#c" x="1471" y="2251"/><use href="#c" x="1475" y="2258"/><use href="#c" x="1478" y="2265"/><use href="#c" x="1482" y="2271"/><use href="#c" x="1486" y="2278"/><use href="#c" x="1489" y="2285"/><use href="#c" x="1493" y="2291"/><use href="#c" x="1497" y="2298"/><use href="#c" x="1500" y="2305"/><use href="#c" x="1504" y="2310"/><use href="#c" x="1508" y="2318"/><use href="#c" x="1511" y="2325"/><use href="#c" x="1515" y="2332"/><use href="#c" x="1519" y="2337"/><use href="#c" x="1522" y="2344"/><use href="#c" x="1526" y="2350"/><use href="#c" x="1530" y="2357"/><use href="#c" x="1533" y="2363"/><use href="#c" x="1537" y="2367"/><use href="#c" x="1541" y="2378"/><use href="#c" x="1544" y="2384"/><use href="#c" x="1548" y="2391"/><use href="#c" x="1552" y="2397"/><use href="#c" x="1555" y="2402"/><use href="#c" x="1559" y="2409"/><use href="#c" x="1563" y="2416"/><use href="#c" x="1566" y="2423"/><use href="#c" x="1570" y="2432"/><use href="#c" x="1574" y="2440"/><use href="#c" x="1577" y="2444"/><use href="#c" x="1581" y="2450"/><use href="#c" x="1585" y="2457"/><use href="#c" x="1588" y="2463"/><use href="#c" x="1592" y="2470"/><use href="#c" x="1596" y="2477"/><use href="#c" x="1600" y="2479"/><use href="#c" x="1603" y="2489"/><use href="#c" x="1607" y="2495"/><use href="#c" x="1611" y="2498"/><use href="#c" x="1614" y="2507"/><use href="#c" x="1618" y="2519"/><use href="#c" x="1622" y="2517"/><use href="#c" x="1625" y="2525"/><use href="#c" x="1629" y="2534"/><use href="#c" x="1633" y="2539"/><use href="#c" x="1636" y="2544"/><use href="#c" x="1640" y="2562"/><use href="#c" x="1644" y="2561"/><use href="#c" x="1647" y="2561"/><use href="#c" x="1651" y="2571"/><use href="#c" x="1655" y="2585"/><use href="#c" x="1658" y="2580"/><use href="#c" x="1662" y="2590"/><use href="#c" x="1666" y="2600"/><use href="#c" x="1669" y="2597"/><use href="#c" x="1673" y="2608"/><use href="#c" x="1677" y="2614"/><use href="#c" x="1680" y="2629"/><use href="#c" x="1684" y="2640"/><use href="#c" x="1688" y="2641"/><use href="#c" x="1691" y="2636"/><use href="#c" x="1695" y="2648"/><use href="#c" x="1699" y="2652"/><use href="#c" x="1702" y="2660"/><use href="#c" x="1706" y="2661"/><use href="#c" x="1710" y="2682"/><use href="#c" x="1713" y="2676"/><use href="#c" x="1717" y="2686"/><use href="#c" x="1721" y="2707"/><use href="#c" x="1724" y="2696"/><use href="#c" x="1728" y="2689"/><use href="#c" x="1732" y="2712"/><use href="#c" x="1735" y="2746"/><use href="#c" x="1739" y="2701"/><use href="#c" x="1743" y="2741"/><use href="#c" x="1746" y="2753"/><use href="#c" x="1750" y="2751"/><use href="#c" x="1754" y="2741"/><use href="#c" x="1757" y="2776"/><use href="#c" x="1761" y="2748"/><use href="#c" x="1765" y="2764"/><use href="#c" x="1769" y="2744"/><use href="#c" x="1772" y="2767"/><use href="#c" x="1776" y="2770"/><use href="#c" x="1780" y="2791"/><use href="#c" x="1783" y="2787"/><use href="#c" x="1787" y="2784"/><use href="#c" x="1791" y="2776"/><use href="#c" x="1794" y="2787"/><use href="#c" x="1798" y="2800"/><use href="#c" x="1802" y="2810"/><use href="#c" x="274" y="3009"/><use href="#c" x="295" y="3009"/><use href="#c" x="310" y="3009"/><use href="#c" x="321" y="3009"/><use href="#c" x="328" y="3009"/><use href="#c" x="355" y="3009"/><use href="#c" x="362" y="3009"/><use href="#c" x="366" y="3009"/><use href="#c" x="370" y="3009"/><use href="#c" x="383" y="3009"/><use href="#c" x="389" y="3009"/><use href="#c" x="271" y="2957"/><use href="#c" x="317" y="2957"/><use href="#c" x="381" y="2957"/><use href="#c" x="394" y="2957"/><use href="#c" x="397" y="2957"/><use href="#c" x="401" y="2957"/><use href="#c" x="427" y="2957"/><use href="#c" x="453" y="2957"/><use href="#c" x="474" y="2957"/><use href="#c" x="342" y="2927"/><use href="#c" x="434" y="2927"/><use href="#c" x="466" y="2927"/><use href="#c" x="415" y="2905"/><use href="#c" x="422" y="2905"/><use href="#c" x="438" y="2905"/><use href="#c" x="459" y="2905"/><use href="#c" x="267" y="2888"/><use href="#c" x="420" y="2888"/><use href="#c" x="473" y="2888"/><use href="#c" x="448" y="2874"/><use href="#c" x="462" y="2863"/><use href="#c" x="469" y="2853"/><use href="#c" x="476" y="2957"/><use href="#c" x="482" y="2957"/><use href="#c" x="502" y="2927"/><use href="#c" x="487" y="2905"/><use href="#c" x="491" y="2905"/><use href="#c" x="497" y="2888"/><use href="#c" x="504" y="2888"/><use href="#c" x="512" y="2888"/><use href="#c" x="483" y="2853"/><use href="#c" x="495" y="2853"/><use href="#c" x="516" y="2853"/><use href="#c" x="537" y="2853"/><use href="#c" x="520" y="2844"/><use href="#c" x="525" y="2844"/><use href="#c" x="529" y="2844"/><use href="#c" x="532" y="2844"/><use href="#c" x="540" y="2844"/><use href="#c" x="530" y="2836"/><use href="#c" x="1842" y="3009"/><use href="#c" x="1891" y="3009"/><use href="#c" x="1918" y="3009"/><use href="#c" x="1924" y="3009"/><use href="#c" x="1828" y="2957"/><use href="#c" x="1853" y="2957"/><use href="#c" x="1857" y="2957"/><use href="#c" x="1860" y="2957"/><use href="#c" x="1874" y="2957"/><use href="#c" x="1885" y="2957"/><use href="#c" x="1897" y="2957"/><use href="#c" x="1904" y="2957"/><use href="#c" x="1871" y="2927"/><use href="#c" x="1831" y="2905"/><use href="#c" x="1876" y="2905"/><use href="#c" x="1882" y="2905"/><use href="#c" x="1825" y="2888"/><use href="#c" x="1849" y="2874"/><use href="#c" x="1810" y="2853"/><use href="#c" x="1834" y="2853"/><use href="#c" x="1838" y="2853"/><use href="#c" x="1847" y="2853"/><use href="#c" x="1817" y="2836"/><use href="#c" x="1814" y="2805"/><use href="#c" x="1821" y="2817"/><use href="#c" x="1809" y="2829"/><use href="#c" x="1991" y="3009"/><use href="#c" x="1938" y="1955"/>
<use href="#x" x="549" y="2863"/><use href="#x" x="552" y="2863"/><use href="#x" x="556" y="2777"/><use href="#x" x="560" y="2811"/><use href="#x" x="563" y="2751"/><use href="#x" x="567" y="2817"/><use href="#x" x="571" y="2788"/><use href="#x" x="574" y="2774"/><use href="#x" x="578" y="2806"/><use href="#x" x="582" y="2767"/><use href="#x" x="585" y="2738"/><use href="#x" x="589" y="2770"/><use href="#x" x="593" y="2777"/><use href="#x" x="597" y="2761"/><use href="#x" x="600" y="2756"/><use href="#x" x="604" y="2753"/><use href="#x" x="608" y="2742"/><use href="#x" x="611" y="2732"/><use href="#x" x="615" y="2712"/><use href="#x" x="619" y="2708"/><use href="#x" x="622" y="2711"/><use href="#x" x="626" y="2705"/><use href="#x" x="630" y="2683"/><use href="#x" x="633" y="2712"/><use href="#x" x="637" y="2696"/><use href="#x" x="641" y="2680"/><use href="#x" x="644" y="2680"/><use href="#x" x="648" y="2667"/><use href="#x" x="652" y="2667"/><use href="#x" x="655" y="2670"/><use href="#x" x="659" y="2644"/><use href="#x" x="663" y="2642"/><use href="#x" x="666" y="2636"/><use href="#x" x="670" y="2638"/><use href="#x" x="674" y="2623"/><use href="#x" x="677" y="2616"/><use href="#x" x="681" y="2624"/><use href="#x" x="685" y="2604"/><use href="#x" x="688" y="2604"/><use href="#x" x="692" y="2590"/><use href="#x" x="696" y="2580"/><use href="#x" x="699" y="2586"/><use href="#x" x="703" y="2576"/><use href="#x" x="707" y="2568"/><use href="#x" x="710" y="2561"/><use href="#x" x="714" y="2555"/><use href="#x" x="718" y="2546"/><use href="#x" x="721" y="2541"/><use href="#x" x="725" y="2535"/><use href="#x" x="729" y="2527"/><use href="#x" x="732" y="2524"/><use href="#x" x="736" y="2511"/><use href="#x" x="740" y="2512"/><use href="#x" x="743" y="2504"/><use href="#x" x="747" y="2499"/><use href="#x" x="751" y="2489"/><use href="#x" x="754" y="2481"/><use href="#x" x="758" y="2479"/><use href="#x" x="762" y="2468"/><use href="#x" x="766" y="2465"/><use href="#x" x="769" y="2453"/><use href="#x" x="773" y="2451"/><use href="#x" x="777" y="2445"/><use href="#x" x="780" y="2437"/><use href="#x" x="784" y="2430"/><use href="#x" x="788" y="2425"/><use href="#x" x="791" y="2419"/><use href="#x" x="795" y="2413"/><use href="#x" x="799" y="2406"/><use href="#x" x="802" y="2399"/><use href="#x" x="806" y="2393"/><use href="#x" x="810" y="2384"/><use href="#x" x="813" y="2377"/><use href="#x" x="817" y="2371"/><use href="#x" x="821" y="2363"/><use href="#x" x="824" y="2357"/><use href="#x" x="828" y="2351"/><use href="#x" x="832" y="2345"/><use href="#x" x="835" y="2337"/><use href="#x" x="839" y="2331"/><use href="#x" x="843" y="2324"/><use href="#x" x="846" y="2318"/><use href="#x" x="850" y="2310"/><use href="#x" x="854" y="2306"/><use href="#x" x="857" y="2298"/><use href="#x" x="861" y="2292"/><use href="#x" x="865" y="2285"/><use href="#x" x="868" y="2279"/><use href="#x" x="872" y="2272"/><use href="#x" x="876" y="2265"/><use href="#x" x="879" y="2257"/><use href="#x" x="883" y="2252"/><use href="#x" x="887" y="2245"/><use href="#x" x="890" y="2239"/><use href="#x" x="894" y="2233"/><use href="#x" x="898" y="2226"/><use href="#x" x="901" y="2219"/><use href="#x" x="905" y="2213"/><use href="#x" x="909" y="2206"/><use href="#x" x="912" y="2200"/><use href="#x" x="916" y="2194"/><use href="#x" x="920" y="2187"/><use href="#x" x="923" y="2181"/><use href="#x" x="927" y="2174"/><use href="#x" x="931" y="2168"/><use href="#x" x="935" y="2162"/><use href="#x" x="938" y="2156"/><use href="#x" x="942" y="2149"/><use href="#x" x="946" y="2143"/><use href="#x" x="949" y="2137"/><use href="#x" x="953" y="2131"/><use href="#x" x="957" y="2125"/><use href="#x" x="960" y="2119"/><use href="#x" x="964" y="2113"/><use href="#x" x="968" y="2107"/><use href="#x" x="971" y="2101"/><use href="#x" x="975" y="2095"/><use href="#x" x="979" y="2089"/><use href="#x" x="982" y="2083"/><use href="#x" x="986" y="2077"/><use href="#x" x="990" y="2072"/><use href="#x" x="993" y="2066"/><use href="#x" x="997" y="2061"/><use href="#x" x="1001" y="2055"/><use href="#x" x="1004" y="2050"/><use href="#x" x="1008" y="2044"/><use href="#x" x="1012" y="2039"/><use href="#x" x="1015" y="2034"/><use href="#x" x="1019" y="2029"/><use href="#x" x="1023" y="2024"/><use href="#x" x="1026" y="2019"/><use href="#x" x="1030" y="2014"/><use href="#x" x="1034" y="2009"/><use href="#x" x="1037" y="2004"/><use href="#x" x="1041" y="1999"/><use href="#x" x="1045" y="1995"/><use href="#x" x="1048" y="1990"/><use href="#x" x="1052" y="1986"/><use href="#x" x="1056" y="1982"/><use href="#x" x="1059" y="1977"/><use href="#x" x="1063" y="1973"/><use href="#x" x="1067" y="1969"/><use href="#x" x="1070" y="1965"/><use href="#x" x="1074" y="1962"/><use href="#x" x="1078" y="1958"/><use href="#x" x="1081" y="1954"/><use href="#x" x="1085" y="1951"/><use href="#x" x="1089" y="1948"/><use href="#x" x="1092" y="1945"/><use href="#x" x="1096" y="1941"/><use href="#x" x="1100" y="1938"/><use href="#x" x="1104" y="1936"/><use href="#x" x="1107" y="1933"/><use href="#x" x="1111" y="1930"/><use href="#x" x="1115" y="1928"/><use href="#x" x="1118" y="1926"/><use href="#x" x="1122" y="1923"/><use href="#x" x="1126" y="1921"/><use href="#x" x="1129" y="1919"/><use href="#x" x="1133" y="1918"/><use href="#x" x="1137" y="1916"/><use href="#x" x="1140" y="1914"/><use href="#x" x="1144" y="1913"/><use href="#x" x="1148" y="1912"/><use href="#x" x="1151" y="1911"/><use href="#x" x="1155" y="1910"/><use href="#x" x="1159" y="1909"/><use href="#x" x="1162" y="1908"/><use href="#x" x="1166" y="1908"/><use href="#x" x="1170" y="1907"/><use href="#x" x="1173" y="1907"/><use href="#x" x="1177" y="1907"/><use href="#x" x="1181" y="1907"/><use href="#x" x="1184" y="1907"/><use href="#x" x="1188" y="1908"/><use href="#x" x="1192" y="1908"/><use href="#x" x="1195" y="1909"/><use href="#x" x="1199" y="1910"/><use href="#x" x="1203" y="1911"/><use href="#x" x="1206" y="1912"/><use href="#x" x="1210" y="1913"/><use href="#x" x="1214" y="1914"/><use href="#x" x="1217" y="1916"/><use href="#x" x="1221" y="1918"/><use href="#x" x="1225" y="1919"/><use href="#x" x="1228" y="1921"/><use href="#x" x="1232" y="1923"/><use href="#x" x="1236" y="1926"/><use href="#x" x="1239" y="1928"/><use href="#x" x="1243" y="1930"/><use href="#x" x="1247" y="1933"/><use href="#x" x="1250" y="1936"/><use href="#x" x="1254" y="1938"/><use href="#x" x="1258" y="1941"/><use href="#x" x="1262" y="1945"/><use href="#x" x="1265" y="1948"/><use href="#x" x="1269" y="1951"/><use href="#x" x="1273" y="1954"/><use href="#x" x="1276" y="1958"/><use href="#x" x="1280" y="1962"/><use href="#x" x="1284" y="1965"/><use href="#x" x="1287" y="1969"/><use href="#x" x="1291" y="1973"/><use href="#x" x="1295" y="1978"/><use href="#x" x="1298" y="1982"/><use href="#x" x="1302" y="1986"/><use href="#x" x="1306" y="1990"/><use href="#x" x="1309" y="1995"/><use href="#x" x="1313" y="1999"/><use href="#x" x="1317" y="2004"/><use href="#x" x="1320" y="2009"/><use href="#x" x="1324" y="2014"/><use href="#x" x="1328" y="2019"/><use href="#x" x="1331" y="2024"/><use href="#x" x="1335" y="2028"/><use href="#x" x="1339" y="2034"/><use href="#x" x="1342" y="2039"/><use href="#x" x="1346" y="2044"/><use href="#x" x="1350" y="2049"/><use href="#x" x="1353" y="2055"/><use href="#x" x="1357" y="2060"/><use href="#x" x="1361" y="2066"/><use href="#x" x="1364" y="2072"/><use href="#x" x="1368" y="2077"/><use href="#x" x="1372" y="2083"/><use href="#x" x="1375" y="2089"/><use href="#x" x="1379" y="2095"/><use href="#x" x="1383" y="2100"/><use href="#x" x="1386" y="2107"/><use href="#x" x="1390" y="2112"/><use href="#x" x="1394" y="2119"/><use href="#x" x="1397" y="2124"/><use href="#x" x="1401" y="2131"/><use href="#x" x="1405" y="2137"/><use href="#x" x="1408" y="2143"/><use href="#x" x="1412" y="2149"/><use href="#x" x="1416" y="2156"/><use href="#x" x="1419" y="2162"/><use href="#x" x="1423" y="2168"/><use href="#x" x="1427" y="2174"/><use href="#x" x="1431" y="2181"/><use href="#x" x="1434" y="2187"/><use href="#x" x="1438" y="2193"/><use href="#x" x="1442" y="2200"/><use href="#x" x="1445" y="2206"/><use href="#x" x="1449" y="2213"/><use href="#x" x="1453" y="2219"/><use href="#x" x="1456" y="2225"/><use href="#x" x="1460" y="2232"/><use href="#x" x="1464" y="2239"/><use href="#x" x="1467" y="2245"/><use href="#x" x="1471" y="2252"/><use href="#x" x="1475" y="2258"/><use href="#x" x="1478" y="2266"/><use href="#x" x="1482" y="2272"/><use href="#x" x="1486" y="2279"/><use href="#x" x="1489" y="2285"/><use href="#x" x="1493" y="2291"/><use href="#x" x="1497" y="2298"/><use href="#x" x="1500" y="2303"/><use href="#x" x="1504" y="2311"/><use href="#x" x="1508" y="2318"/><use href="#x" x="1511" y="2324"/><use href="#x" x="1515" y="2330"/><use href="#x" x="1519" y="2338"/><use href="#x" x="1522" y="2343"/><use href="#x" x="1526" y="2351"/><use href="#x" x="1530" y="2358"/><use href="#x" x="1533" y="2365"/><use href="#x" x="1537" y="2370"/><use href="#x" x="1541" y="2375"/><use href="#x" x="1544" y="2386"/><use href="#x" x="1548" y="2392"/><use href="#x" x="1552" y="2399"/><use href="#x" x="1555" y="2403"/><use href="#x" x="1559" y="2410"/><use href="#x" x="1563" y="2416"/><use href="#x" x="1566" y="2426"/><use href="#x" x="1570" y="2432"/><use href="#x" x="1574" y="2438"/><use href="#x" x="1577" y="2445"/><use href="#x" x="1581" y="2451"/><use href="#x" x="1585" y="2460"/><use href="#x" x="1588" y="2466"/><use href="#x" x="1592" y="2471"/><use href="#x" x="1596" y="2475"/><use href="#x" x="1600" y="2483"/><use href="#x" x="1603" y="2491"/><use href="#x" x="1607" y="2496"/><use href="#x" x="1611" y="2502"/><use href="#x" x="1614" y="2510"/><use href="#x" x="1618" y="2520"/><use href="#x" x="1622" y="2527"/><use href="#x" x="1625" y="2529"/><use href="#x" x="1629" y="2530"/><use href="#x" x="1633" y="2533"/><use href="#x" x="1636" y="2548"/><use href="#x" x="1640" y="2561"/><use href="#x" x="1644" y="2560"/><use href="#x" x="1647" y="2564"/><use href="#x" x="1651" y="2565"/><use href="#x" x="1655" y="2575"/><use href="#x" x="1658" y="2588"/><use href="#x" x="1662" y="2596"/><use href="#x" x="1666" y="2604"/><use href="#x" x="1669" y="2606"/><use href="#x" x="1673" y="2605"/><use href="#x" x="1677" y="2608"/><use href="#x" x="1680" y="2623"/><use href="#x" x="1684" y="2629"/><use href="#x" x="1688" y="2636"/><use href="#x" x="1691" y="2633"/><use href="#x" x="1695" y="2643"/><use href="#x" x="1699" y="2650"/><use href="#x" x="1702" y="2658"/><use href="#x" x="1706" y="2677"/><use href="#x" x="1710" y="2677"/><use href="#x" x="1713" y="2689"/><use href="#x" x="1717" y="2702"/><use href="#x" x="1721" y="2686"/><use href="#x" x="1724" y="2709"/><use href="#x" x="1728" y="2711"/><use href="#x" x="1732" y="2709"/><use href="#x" x="1735" y="2728"/><use href="#x" x="1739" y="2711"/><use href="#x" x="1743" y="2740"/><use href="#x" x="1746" y="2730"/><use href="#x" x="1750" y="2749"/><use href="#x" x="1754" y="2720"/><use href="#x" x="1757" y="2777"/><use href="#x" x="1761" y="2764"/><use href="#x" x="1765" y="2784"/><use href="#x" x="1769" y="2777"/><use href="#x" x="1772" y="2767"/><use href="#x" x="1776" y="2759"/><use href="#x" x="1780" y="2811"/><use href="#x" x="1783" y="2844"/><use href="#x" x="1787" y="2817"/><use href="#x" x="1791" y="2811"/><use href="#x" x="1794" y="2792"/><use href="#x" x="1798" y="2796"/><use href="#x" x="1802" y="2811"/><use href="#x" x="396" y="3010"/><use href="#x" x="401" y="3010"/><use href="#x" x="406" y="3010"/><use href="#x" x="414" y="3010"/><use href="#x" x="418" y="3010"/><use href="#x" x="424" y="3010"/><use href="#x" x="428" y="3010"/><use href="#x" x="448" y="3010"/><use href="#x" x="452" y="3010"/><use href="#x" x="460" y="3010"/><use href="#x" x="470" y="3010"/><use href="#x" x="435" y="2958"/><use href="#x" x="439" y="2958"/><use href="#x" x="444" y="2958"/><use href="#x" x="448" y="2958"/><use href="#x" x="451" y="2927"/><use href="#x" x="469" y="2927"/><use href="#x" x="473" y="2927"/><use href="#x" x="459" y="2905"/><use href="#x" x="462" y="2889"/><use href="#x" x="481" y="3010"/><use href="#x" x="485" y="3010"/><use href="#x" x="489" y="3010"/><use href="#x" x="478" y="2958"/><use href="#x" x="494" y="2958"/><use href="#x" x="490" y="2927"/><use href="#x" x="519" y="2927"/><use href="#x" x="512" y="2889"/><use href="#x" x="515" y="2889"/><use href="#x" x="523" y="2889"/><use href="#x" x="529" y="2889"/><use href="#x" x="542" y="2889"/><use href="#x" x="544" y="2889"/><use href="#x" x="501" y="2875"/><use href="#x" x="504" y="2875"/><use href="#x" x="522" y="2875"/><use href="#x" x="537" y="2875"/><use href="#x" x="498" y="2863"/><use href="#x" x="530" y="2863"/><use href="#x" x="542" y="2853"/><use href="#x" x="508" y="2836"/><use href="#x" x="1842" y="3010"/><use href="#x" x="1863" y="3010"/><use href="#x" x="1897" y="3010"/><use href="#x" x="1902" y="3010"/><use href="#x" x="1918" y="3010"/><use href="#x" x="1941" y="3010"/><use href="#x" x="1849" y="2958"/><use href="#x" x="1867" y="2958"/><use href="#x" x="1895" y="2958"/><use href="#x" x="1927" y="2958"/><use href="#x" x="1817" y="2927"/><use href="#x" x="1834" y="2927"/><use href="#x" x="1846" y="2927"/><use href="#x" x="1871" y="2927"/><use href="#x" x="1839" y="2905"/><use href="#x" x="1860" y="2905"/><use href="#x" x="1878" y="2905"/><use href="#x" x="1892" y="2905"/><use href="#x" x="1910" y="2905"/><use href="#x" x="1856" y="2889"/><use href="#x" x="1888" y="2889"/><use href="#x" x="1820" y="2875"/><use href="#x" x="1828" y="2875"/><use href="#x" x="1804" y="2863"/><use href="#x" x="1809" y="2863"/><use href="#x" x="1853" y="2863"/><use href="#x" x="1874" y="2863"/><use href="#x" x="1825" y="2853"/><use href="#x" x="1814" y="2844"/><use href="#x" x="1832" y="2836"/><use href="#x" x="1964" y="3010"/><use href="#x" x="1968" y="3010"/><use href="#x" x="1972" y="3010"/><use href="#x" x="1979" y="3010"/><use href="#x" x="2065" y="3010"/><use href="#x" x="1948" y="2958"/><use href="#x" x="1995" y="2958"/><use href="#x" x="1998" y="2958"/><use href="#x" x="2087" y="2958"/><use href="#x" x="1938" y="2017"/>
</g>
</g>
</svg></body></html>
